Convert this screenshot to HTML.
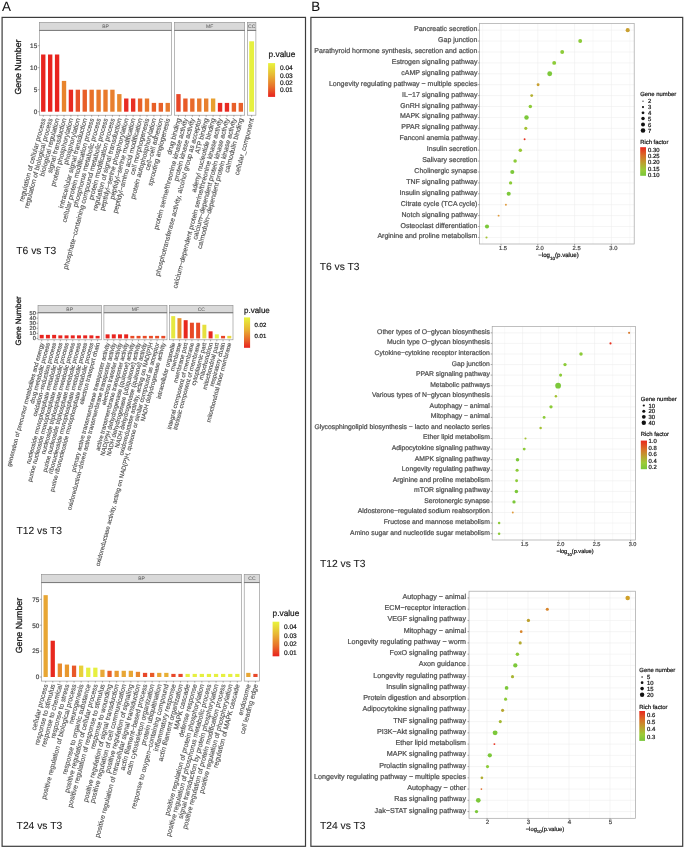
<!DOCTYPE html>
<html><head><meta charset="utf-8"><title>Figure</title>
<style>
html,body{margin:0;padding:0;background:#fff;}
svg{display:block;will-change:transform;}
text{font-family:"Liberation Sans", sans-serif;stroke-width:0.22px;}
</style></head>
<body>
<svg width="685" height="848" viewBox="0 0 685 848" font-family='"Liberation Sans", sans-serif' text-rendering='geometricPrecision'>
<rect x="0" y="0" width="685" height="848" fill="#fff"/>
<rect x="2.10" y="17.40" width="303.40" height="828.90" fill="none" stroke="#3c3c3c" stroke-width="1.2"/>
<rect x="310.90" y="17.40" width="371.80" height="828.90" fill="none" stroke="#3c3c3c" stroke-width="1.2"/>
<text x="2.00" y="10.70" font-size="13.40" fill="#111" stroke="#111" text-anchor="start" style="stroke-width:0.05px">A</text>
<text x="311.20" y="10.90" font-size="13.40" fill="#111" stroke="#111" text-anchor="start" style="stroke-width:0.05px">B</text>
<rect x="39.40" y="22.40" width="132.20" height="8.00" fill="#d9d9d9" stroke="#8a8a8a" stroke-width="0.6"/>
<text x="105.50" y="28.10" font-size="5.00" fill="#555" text-anchor="middle" style="stroke:none">BP</text>
<rect x="39.40" y="30.40" width="132.20" height="84.80" fill="#fff" stroke="#8a8a8a" stroke-width="0.6"/>
<line x1="39.40" y1="30.40" x2="171.60" y2="30.40" stroke="#666" stroke-width="0.7"/>
<rect x="41.08" y="54.50" width="4.36" height="57.20" fill="#e8241e" stroke="none" stroke-width="0"/>
<line x1="43.26" y1="115.20" x2="43.26" y2="116.70" stroke="#555" stroke-width="0.5"/>
<text transform="translate(43.36,118.30) rotate(-75)" font-size="6.77" fill="#4d4d4d" stroke="#4d4d4d" style="stroke-width:0.12px" text-anchor="end" dy="0.35em">regulation of cellular process</text>
<rect x="48.00" y="54.50" width="4.36" height="57.20" fill="#e8241e" stroke="none" stroke-width="0"/>
<line x1="50.17" y1="115.20" x2="50.17" y2="116.70" stroke="#555" stroke-width="0.5"/>
<text transform="translate(50.27,118.30) rotate(-75)" font-size="6.77" fill="#4d4d4d" stroke="#4d4d4d" style="stroke-width:0.12px" text-anchor="end" dy="0.35em">regulation of biological process</text>
<rect x="54.91" y="54.50" width="4.36" height="57.20" fill="#e8241e" stroke="none" stroke-width="0"/>
<line x1="57.09" y1="115.20" x2="57.09" y2="116.70" stroke="#555" stroke-width="0.5"/>
<text transform="translate(57.19,118.30) rotate(-75)" font-size="6.77" fill="#4d4d4d" stroke="#4d4d4d" style="stroke-width:0.12px" text-anchor="end" dy="0.35em">biological regulation</text>
<rect x="61.83" y="80.90" width="4.36" height="30.80" fill="#e8842c" stroke="none" stroke-width="0"/>
<line x1="64.01" y1="115.20" x2="64.01" y2="116.70" stroke="#555" stroke-width="0.5"/>
<text transform="translate(64.11,118.30) rotate(-75)" font-size="6.77" fill="#4d4d4d" stroke="#4d4d4d" style="stroke-width:0.12px" text-anchor="end" dy="0.35em">signal transduction</text>
<rect x="68.74" y="89.70" width="4.36" height="22.00" fill="#e82a22" stroke="none" stroke-width="0"/>
<line x1="70.92" y1="115.20" x2="70.92" y2="116.70" stroke="#555" stroke-width="0.5"/>
<text transform="translate(71.02,118.30) rotate(-75)" font-size="6.77" fill="#4d4d4d" stroke="#4d4d4d" style="stroke-width:0.12px" text-anchor="end" dy="0.35em">protein phosphorylation</text>
<rect x="75.66" y="89.70" width="4.36" height="22.00" fill="#e8522a" stroke="none" stroke-width="0"/>
<line x1="77.84" y1="115.20" x2="77.84" y2="116.70" stroke="#555" stroke-width="0.5"/>
<text transform="translate(77.94,118.30) rotate(-75)" font-size="6.77" fill="#4d4d4d" stroke="#4d4d4d" style="stroke-width:0.12px" text-anchor="end" dy="0.35em">phosphorylation</text>
<rect x="82.57" y="89.70" width="4.36" height="22.00" fill="#e85e28" stroke="none" stroke-width="0"/>
<line x1="84.75" y1="115.20" x2="84.75" y2="116.70" stroke="#555" stroke-width="0.5"/>
<text transform="translate(84.85,118.30) rotate(-75)" font-size="6.77" fill="#4d4d4d" stroke="#4d4d4d" style="stroke-width:0.12px" text-anchor="end" dy="0.35em">intracellular signal transduction</text>
<rect x="89.49" y="89.70" width="4.36" height="22.00" fill="#e8702a" stroke="none" stroke-width="0"/>
<line x1="91.67" y1="115.20" x2="91.67" y2="116.70" stroke="#555" stroke-width="0.5"/>
<text transform="translate(91.77,118.30) rotate(-75)" font-size="6.77" fill="#4d4d4d" stroke="#4d4d4d" style="stroke-width:0.12px" text-anchor="end" dy="0.35em">cellular protein modification process</text>
<rect x="96.41" y="89.70" width="4.36" height="22.00" fill="#e8782c" stroke="none" stroke-width="0"/>
<line x1="98.58" y1="115.20" x2="98.58" y2="116.70" stroke="#555" stroke-width="0.5"/>
<text transform="translate(98.68,118.30) rotate(-75)" font-size="6.77" fill="#4d4d4d" stroke="#4d4d4d" style="stroke-width:0.12px" text-anchor="end" dy="0.35em">phosphorus metabolic process</text>
<rect x="103.32" y="89.70" width="4.36" height="22.00" fill="#e87a2c" stroke="none" stroke-width="0"/>
<line x1="105.50" y1="115.20" x2="105.50" y2="116.70" stroke="#555" stroke-width="0.5"/>
<text transform="translate(105.60,118.30) rotate(-75)" font-size="6.77" fill="#4d4d4d" stroke="#4d4d4d" style="stroke-width:0.12px" text-anchor="end" dy="0.35em">phosphate−containing compound metabolic process</text>
<rect x="110.24" y="89.70" width="4.36" height="22.00" fill="#e8802e" stroke="none" stroke-width="0"/>
<line x1="112.42" y1="115.20" x2="112.42" y2="116.70" stroke="#555" stroke-width="0.5"/>
<text transform="translate(112.52,118.30) rotate(-75)" font-size="6.77" fill="#4d4d4d" stroke="#4d4d4d" style="stroke-width:0.12px" text-anchor="end" dy="0.35em">protein modification process</text>
<rect x="117.15" y="94.10" width="4.36" height="17.60" fill="#e8882e" stroke="none" stroke-width="0"/>
<line x1="119.33" y1="115.20" x2="119.33" y2="116.70" stroke="#555" stroke-width="0.5"/>
<text transform="translate(119.43,118.30) rotate(-75)" font-size="6.77" fill="#4d4d4d" stroke="#4d4d4d" style="stroke-width:0.12px" text-anchor="end" dy="0.35em">regulation of signal transduction</text>
<rect x="124.07" y="98.50" width="4.36" height="13.20" fill="#e82a22" stroke="none" stroke-width="0"/>
<line x1="126.25" y1="115.20" x2="126.25" y2="116.70" stroke="#555" stroke-width="0.5"/>
<text transform="translate(126.35,118.30) rotate(-75)" font-size="6.77" fill="#4d4d4d" stroke="#4d4d4d" style="stroke-width:0.12px" text-anchor="end" dy="0.35em">peptidyl−serine phosphorylation</text>
<rect x="130.98" y="98.50" width="4.36" height="13.20" fill="#e83024" stroke="none" stroke-width="0"/>
<line x1="133.16" y1="115.20" x2="133.16" y2="116.70" stroke="#555" stroke-width="0.5"/>
<text transform="translate(133.26,118.30) rotate(-75)" font-size="6.77" fill="#4d4d4d" stroke="#4d4d4d" style="stroke-width:0.12px" text-anchor="end" dy="0.35em">peptidyl−serine modification</text>
<rect x="137.90" y="98.50" width="4.36" height="13.20" fill="#e86028" stroke="none" stroke-width="0"/>
<line x1="140.08" y1="115.20" x2="140.08" y2="116.70" stroke="#555" stroke-width="0.5"/>
<text transform="translate(140.18,118.30) rotate(-75)" font-size="6.77" fill="#4d4d4d" stroke="#4d4d4d" style="stroke-width:0.12px" text-anchor="end" dy="0.35em">peptidyl−amino acid modification</text>
<rect x="144.82" y="98.50" width="4.36" height="13.20" fill="#e8782c" stroke="none" stroke-width="0"/>
<line x1="146.99" y1="115.20" x2="146.99" y2="116.70" stroke="#555" stroke-width="0.5"/>
<text transform="translate(147.09,118.30) rotate(-75)" font-size="6.77" fill="#4d4d4d" stroke="#4d4d4d" style="stroke-width:0.12px" text-anchor="end" dy="0.35em">cell morphogenesis</text>
<rect x="151.73" y="102.90" width="4.36" height="8.80" fill="#e86028" stroke="none" stroke-width="0"/>
<line x1="153.91" y1="115.20" x2="153.91" y2="116.70" stroke="#555" stroke-width="0.5"/>
<text transform="translate(154.01,118.30) rotate(-75)" font-size="6.77" fill="#4d4d4d" stroke="#4d4d4d" style="stroke-width:0.12px" text-anchor="end" dy="0.35em">protein autophosphorylation</text>
<rect x="158.65" y="102.90" width="4.36" height="8.80" fill="#e86028" stroke="none" stroke-width="0"/>
<line x1="160.83" y1="115.20" x2="160.83" y2="116.70" stroke="#555" stroke-width="0.5"/>
<text transform="translate(160.93,118.30) rotate(-75)" font-size="6.77" fill="#4d4d4d" stroke="#4d4d4d" style="stroke-width:0.12px" text-anchor="end" dy="0.35em">cell−cell adhesion</text>
<rect x="165.56" y="102.90" width="4.36" height="8.80" fill="#e8782c" stroke="none" stroke-width="0"/>
<line x1="167.74" y1="115.20" x2="167.74" y2="116.70" stroke="#555" stroke-width="0.5"/>
<text transform="translate(167.84,118.30) rotate(-75)" font-size="6.77" fill="#4d4d4d" stroke="#4d4d4d" style="stroke-width:0.12px" text-anchor="end" dy="0.35em">sprouting angiogenesis</text>
<line x1="37.80" y1="111.70" x2="39.40" y2="111.70" stroke="#555" stroke-width="0.5"/>
<text x="37.20" y="114.00" font-size="6.40" fill="#4d4d4d" stroke="#4d4d4d" text-anchor="end">0</text>
<line x1="37.80" y1="89.70" x2="39.40" y2="89.70" stroke="#555" stroke-width="0.5"/>
<text x="37.20" y="92.00" font-size="6.40" fill="#4d4d4d" stroke="#4d4d4d" text-anchor="end">5</text>
<line x1="37.80" y1="67.70" x2="39.40" y2="67.70" stroke="#555" stroke-width="0.5"/>
<text x="37.20" y="70.00" font-size="6.40" fill="#4d4d4d" stroke="#4d4d4d" text-anchor="end">10</text>
<line x1="37.80" y1="45.70" x2="39.40" y2="45.70" stroke="#555" stroke-width="0.5"/>
<text x="37.20" y="48.00" font-size="6.40" fill="#4d4d4d" stroke="#4d4d4d" text-anchor="end">15</text>
<rect x="174.60" y="22.40" width="70.10" height="8.00" fill="#d9d9d9" stroke="#8a8a8a" stroke-width="0.6"/>
<text x="209.65" y="28.10" font-size="5.00" fill="#555" text-anchor="middle" style="stroke:none">MF</text>
<rect x="174.60" y="30.40" width="70.10" height="84.80" fill="#fff" stroke="#8a8a8a" stroke-width="0.6"/>
<line x1="174.60" y1="30.40" x2="244.70" y2="30.40" stroke="#666" stroke-width="0.7"/>
<rect x="176.28" y="94.10" width="4.37" height="17.60" fill="#e84828" stroke="none" stroke-width="0"/>
<line x1="178.47" y1="115.20" x2="178.47" y2="116.70" stroke="#555" stroke-width="0.5"/>
<text transform="translate(178.56,118.30) rotate(-75)" font-size="6.77" fill="#4d4d4d" stroke="#4d4d4d" style="stroke-width:0.12px" text-anchor="end" dy="0.35em">drug binding</text>
<rect x="183.21" y="98.50" width="4.37" height="13.20" fill="#e85a28" stroke="none" stroke-width="0"/>
<line x1="185.40" y1="115.20" x2="185.40" y2="116.70" stroke="#555" stroke-width="0.5"/>
<text transform="translate(185.50,118.30) rotate(-75)" font-size="6.77" fill="#4d4d4d" stroke="#4d4d4d" style="stroke-width:0.12px" text-anchor="end" dy="0.35em">protein serine/threonine kinase activity</text>
<rect x="190.14" y="98.50" width="4.37" height="13.20" fill="#e86a2a" stroke="none" stroke-width="0"/>
<line x1="192.32" y1="115.20" x2="192.32" y2="116.70" stroke="#555" stroke-width="0.5"/>
<text transform="translate(192.42,118.30) rotate(-75)" font-size="6.77" fill="#4d4d4d" stroke="#4d4d4d" style="stroke-width:0.12px" text-anchor="end" dy="0.35em">protein kinase activity</text>
<rect x="197.07" y="98.50" width="4.37" height="13.20" fill="#e8782c" stroke="none" stroke-width="0"/>
<line x1="199.25" y1="115.20" x2="199.25" y2="116.70" stroke="#555" stroke-width="0.5"/>
<text transform="translate(199.35,118.30) rotate(-75)" font-size="6.77" fill="#4d4d4d" stroke="#4d4d4d" style="stroke-width:0.12px" text-anchor="end" dy="0.35em">phosphotransferase activity, alcohol group as acceptor</text>
<rect x="204.00" y="98.50" width="4.37" height="13.20" fill="#e8802e" stroke="none" stroke-width="0"/>
<line x1="206.19" y1="115.20" x2="206.19" y2="116.70" stroke="#555" stroke-width="0.5"/>
<text transform="translate(206.28,118.30) rotate(-75)" font-size="6.77" fill="#4d4d4d" stroke="#4d4d4d" style="stroke-width:0.12px" text-anchor="end" dy="0.35em">ATP binding</text>
<rect x="210.93" y="98.50" width="4.37" height="13.20" fill="#e8a030" stroke="none" stroke-width="0"/>
<line x1="213.12" y1="115.20" x2="213.12" y2="116.70" stroke="#555" stroke-width="0.5"/>
<text transform="translate(213.22,118.30) rotate(-75)" font-size="6.77" fill="#4d4d4d" stroke="#4d4d4d" style="stroke-width:0.12px" text-anchor="end" dy="0.35em">adenyl nucleotide binding</text>
<rect x="217.86" y="102.90" width="4.37" height="8.80" fill="#e82a22" stroke="none" stroke-width="0"/>
<line x1="220.05" y1="115.20" x2="220.05" y2="116.70" stroke="#555" stroke-width="0.5"/>
<text transform="translate(220.15,118.30) rotate(-75)" font-size="6.77" fill="#4d4d4d" stroke="#4d4d4d" style="stroke-width:0.12px" text-anchor="end" dy="0.35em">calcium−dependent protein serine/threonine kinase activity</text>
<rect x="224.79" y="102.90" width="4.37" height="8.80" fill="#e82a22" stroke="none" stroke-width="0"/>
<line x1="226.97" y1="115.20" x2="226.97" y2="116.70" stroke="#555" stroke-width="0.5"/>
<text transform="translate(227.07,118.30) rotate(-75)" font-size="6.77" fill="#4d4d4d" stroke="#4d4d4d" style="stroke-width:0.12px" text-anchor="end" dy="0.35em">calcium−dependent protein kinase activity</text>
<rect x="231.72" y="102.90" width="4.37" height="8.80" fill="#e8602a" stroke="none" stroke-width="0"/>
<line x1="233.91" y1="115.20" x2="233.91" y2="116.70" stroke="#555" stroke-width="0.5"/>
<text transform="translate(234.00,118.30) rotate(-75)" font-size="6.77" fill="#4d4d4d" stroke="#4d4d4d" style="stroke-width:0.12px" text-anchor="end" dy="0.35em">calmodulin−dependent protein kinase activity</text>
<rect x="238.65" y="102.90" width="4.37" height="8.80" fill="#e8602a" stroke="none" stroke-width="0"/>
<line x1="240.83" y1="115.20" x2="240.83" y2="116.70" stroke="#555" stroke-width="0.5"/>
<text transform="translate(240.93,118.30) rotate(-75)" font-size="6.77" fill="#4d4d4d" stroke="#4d4d4d" style="stroke-width:0.12px" text-anchor="end" dy="0.35em">calmodulin binding</text>
<rect x="247.40" y="22.40" width="8.50" height="8.00" fill="#d9d9d9" stroke="#8a8a8a" stroke-width="0.6"/>
<text x="251.65" y="28.10" font-size="5.00" fill="#555" text-anchor="middle" style="stroke:none">CC</text>
<rect x="247.40" y="30.40" width="8.50" height="84.80" fill="#fff" stroke="#8a8a8a" stroke-width="0.6"/>
<line x1="247.40" y1="30.40" x2="255.90" y2="30.40" stroke="#666" stroke-width="0.7"/>
<rect x="249.22" y="41.30" width="4.85" height="70.40" fill="#e6f040" stroke="none" stroke-width="0"/>
<line x1="251.65" y1="115.20" x2="251.65" y2="116.70" stroke="#555" stroke-width="0.5"/>
<text transform="translate(251.75,118.30) rotate(-75)" font-size="6.77" fill="#4d4d4d" stroke="#4d4d4d" style="stroke-width:0.12px" text-anchor="end" dy="0.35em">cellular_component</text>
<text transform="translate(21.20,67.00) rotate(-90)" font-size="8.75" fill="#1a1a1a" stroke="#1a1a1a" style="stroke-width:0.3px" text-anchor="middle">Gene Number</text>
<text x="268.60" y="57.30" font-size="8.30" fill="#1a1a1a" stroke="#1a1a1a" text-anchor="start">p.value</text>
<defs><linearGradient id="g1" x1="0" y1="0" x2="0" y2="1"><stop offset="0" stop-color="#e8f43c"/><stop offset="0.35" stop-color="#e8b834"/><stop offset="0.7" stop-color="#e8702a"/><stop offset="1" stop-color="#e8221e"/></linearGradient></defs>
<rect x="268.10" y="63.10" width="7.00" height="33.80" fill="url(#g1)" stroke="none" stroke-width="0"/>
<text x="279.90" y="70.48" font-size="6.60" fill="#1a1a1a" stroke="#1a1a1a" text-anchor="start">0.04</text>
<text x="279.90" y="77.58" font-size="6.60" fill="#1a1a1a" stroke="#1a1a1a" text-anchor="start">0.03</text>
<text x="279.90" y="84.58" font-size="6.60" fill="#1a1a1a" stroke="#1a1a1a" text-anchor="start">0.02</text>
<text x="279.90" y="91.68" font-size="6.60" fill="#1a1a1a" stroke="#1a1a1a" text-anchor="start">0.01</text>
<text x="16.30" y="254.10" font-size="10.30" fill="#1a1a1a" stroke="#1a1a1a" text-anchor="start" style="stroke-width:0.08px">T6 vs T3</text>
<rect x="38.00" y="305.30" width="63.30" height="7.50" fill="#d9d9d9" stroke="#8a8a8a" stroke-width="0.6"/>
<text x="69.65" y="310.75" font-size="5.00" fill="#555" text-anchor="middle" style="stroke:none">BP</text>
<rect x="38.00" y="312.80" width="63.30" height="27.00" fill="#fff" stroke="#8a8a8a" stroke-width="0.6"/>
<line x1="38.00" y1="312.80" x2="101.30" y2="312.80" stroke="#666" stroke-width="0.7"/>
<rect x="39.72" y="334.86" width="3.97" height="3.54" fill="#e8241e" stroke="none" stroke-width="0"/>
<line x1="41.70" y1="339.80" x2="41.70" y2="341.30" stroke="#555" stroke-width="0.5"/>
<text transform="translate(41.80,342.70) rotate(-75)" font-size="6.10" fill="#4d4d4d" stroke="#4d4d4d" style="stroke-width:0.12px" text-anchor="end" dy="0.35em">generation of precursor metabolites and energy</text>
<rect x="45.93" y="334.86" width="3.97" height="3.54" fill="#e8241e" stroke="none" stroke-width="0"/>
<line x1="47.91" y1="339.80" x2="47.91" y2="341.30" stroke="#555" stroke-width="0.5"/>
<text transform="translate(48.02,342.70) rotate(-75)" font-size="6.10" fill="#4d4d4d" stroke="#4d4d4d" style="stroke-width:0.12px" text-anchor="end" dy="0.35em">drug metabolic process</text>
<rect x="52.14" y="334.86" width="3.97" height="3.54" fill="#e8241e" stroke="none" stroke-width="0"/>
<line x1="54.12" y1="339.80" x2="54.12" y2="341.30" stroke="#555" stroke-width="0.5"/>
<text transform="translate(54.23,342.70) rotate(-75)" font-size="6.10" fill="#4d4d4d" stroke="#4d4d4d" style="stroke-width:0.12px" text-anchor="end" dy="0.35em">oxidation−reduction process</text>
<rect x="58.35" y="335.36" width="3.97" height="3.04" fill="#e8241e" stroke="none" stroke-width="0"/>
<line x1="60.33" y1="339.80" x2="60.33" y2="341.30" stroke="#555" stroke-width="0.5"/>
<text transform="translate(60.43,342.70) rotate(-75)" font-size="6.10" fill="#4d4d4d" stroke="#4d4d4d" style="stroke-width:0.12px" text-anchor="end" dy="0.35em">nucleoside monophosphate metabolic process</text>
<rect x="64.56" y="335.36" width="3.97" height="3.04" fill="#e8241e" stroke="none" stroke-width="0"/>
<line x1="66.55" y1="339.80" x2="66.55" y2="341.30" stroke="#555" stroke-width="0.5"/>
<text transform="translate(66.64,342.70) rotate(-75)" font-size="6.10" fill="#4d4d4d" stroke="#4d4d4d" style="stroke-width:0.12px" text-anchor="end" dy="0.35em">purine nucleoside monophosphate metabolic process</text>
<rect x="70.77" y="335.36" width="3.97" height="3.04" fill="#e8241e" stroke="none" stroke-width="0"/>
<line x1="72.75" y1="339.80" x2="72.75" y2="341.30" stroke="#555" stroke-width="0.5"/>
<text transform="translate(72.85,342.70) rotate(-75)" font-size="6.10" fill="#4d4d4d" stroke="#4d4d4d" style="stroke-width:0.12px" text-anchor="end" dy="0.35em">nucleoside triphosphate metabolic process</text>
<rect x="76.98" y="335.36" width="3.97" height="3.04" fill="#e8241e" stroke="none" stroke-width="0"/>
<line x1="78.97" y1="339.80" x2="78.97" y2="341.30" stroke="#555" stroke-width="0.5"/>
<text transform="translate(79.06,342.70) rotate(-75)" font-size="6.10" fill="#4d4d4d" stroke="#4d4d4d" style="stroke-width:0.12px" text-anchor="end" dy="0.35em">purine nucleoside triphosphate metabolic process</text>
<rect x="83.19" y="335.36" width="3.97" height="3.04" fill="#e8241e" stroke="none" stroke-width="0"/>
<line x1="85.17" y1="339.80" x2="85.17" y2="341.30" stroke="#555" stroke-width="0.5"/>
<text transform="translate(85.27,342.70) rotate(-75)" font-size="6.10" fill="#4d4d4d" stroke="#4d4d4d" style="stroke-width:0.12px" text-anchor="end" dy="0.35em">ribonucleoside monophosphate metabolic process</text>
<rect x="89.40" y="335.36" width="3.97" height="3.04" fill="#e8241e" stroke="none" stroke-width="0"/>
<line x1="91.38" y1="339.80" x2="91.38" y2="341.30" stroke="#555" stroke-width="0.5"/>
<text transform="translate(91.48,342.70) rotate(-75)" font-size="6.10" fill="#4d4d4d" stroke="#4d4d4d" style="stroke-width:0.12px" text-anchor="end" dy="0.35em">purine ribonucleoside monophosphate metabolic process</text>
<rect x="95.61" y="335.87" width="3.97" height="2.53" fill="#e8241e" stroke="none" stroke-width="0"/>
<line x1="97.59" y1="339.80" x2="97.59" y2="341.30" stroke="#555" stroke-width="0.5"/>
<text transform="translate(97.69,342.70) rotate(-75)" font-size="6.10" fill="#4d4d4d" stroke="#4d4d4d" style="stroke-width:0.12px" text-anchor="end" dy="0.35em">electron transport chain</text>
<line x1="36.40" y1="338.40" x2="38.00" y2="338.40" stroke="#555" stroke-width="0.5"/>
<text x="35.80" y="340.42" font-size="5.60" fill="#4d4d4d" stroke="#4d4d4d" text-anchor="end">0</text>
<line x1="36.40" y1="333.34" x2="38.00" y2="333.34" stroke="#555" stroke-width="0.5"/>
<text x="35.80" y="335.36" font-size="5.60" fill="#4d4d4d" stroke="#4d4d4d" text-anchor="end">10</text>
<line x1="36.40" y1="328.28" x2="38.00" y2="328.28" stroke="#555" stroke-width="0.5"/>
<text x="35.80" y="330.30" font-size="5.60" fill="#4d4d4d" stroke="#4d4d4d" text-anchor="end">20</text>
<line x1="36.40" y1="323.22" x2="38.00" y2="323.22" stroke="#555" stroke-width="0.5"/>
<text x="35.80" y="325.24" font-size="5.60" fill="#4d4d4d" stroke="#4d4d4d" text-anchor="end">30</text>
<line x1="36.40" y1="318.16" x2="38.00" y2="318.16" stroke="#555" stroke-width="0.5"/>
<text x="35.80" y="320.18" font-size="5.60" fill="#4d4d4d" stroke="#4d4d4d" text-anchor="end">40</text>
<line x1="36.40" y1="313.10" x2="38.00" y2="313.10" stroke="#555" stroke-width="0.5"/>
<text x="35.80" y="315.12" font-size="5.60" fill="#4d4d4d" stroke="#4d4d4d" text-anchor="end">50</text>
<rect x="103.90" y="305.30" width="63.10" height="7.50" fill="#d9d9d9" stroke="#8a8a8a" stroke-width="0.6"/>
<text x="135.45" y="310.75" font-size="5.00" fill="#555" text-anchor="middle" style="stroke:none">MF</text>
<rect x="103.90" y="312.80" width="63.10" height="27.00" fill="#fff" stroke="#8a8a8a" stroke-width="0.6"/>
<line x1="103.90" y1="312.80" x2="167.00" y2="312.80" stroke="#666" stroke-width="0.7"/>
<rect x="105.61" y="334.35" width="3.96" height="4.05" fill="#e8241e" stroke="none" stroke-width="0"/>
<line x1="107.59" y1="339.80" x2="107.59" y2="341.30" stroke="#555" stroke-width="0.5"/>
<text transform="translate(107.69,342.70) rotate(-75)" font-size="6.10" fill="#4d4d4d" stroke="#4d4d4d" style="stroke-width:0.12px" text-anchor="end" dy="0.35em">primary active transmembrane transporter activity</text>
<rect x="111.80" y="334.35" width="3.96" height="4.05" fill="#e8241e" stroke="none" stroke-width="0"/>
<line x1="113.78" y1="339.80" x2="113.78" y2="341.30" stroke="#555" stroke-width="0.5"/>
<text transform="translate(113.88,342.70) rotate(-75)" font-size="6.10" fill="#4d4d4d" stroke="#4d4d4d" style="stroke-width:0.12px" text-anchor="end" dy="0.35em">oxidoreduction−driven active transmembrane transporter activity</text>
<rect x="117.99" y="334.35" width="3.96" height="4.05" fill="#e8241e" stroke="none" stroke-width="0"/>
<line x1="119.97" y1="339.80" x2="119.97" y2="341.30" stroke="#555" stroke-width="0.5"/>
<text transform="translate(120.07,342.70) rotate(-75)" font-size="6.10" fill="#4d4d4d" stroke="#4d4d4d" style="stroke-width:0.12px" text-anchor="end" dy="0.35em">electron transfer activity</text>
<rect x="124.18" y="334.35" width="3.96" height="4.05" fill="#e8241e" stroke="none" stroke-width="0"/>
<line x1="126.16" y1="339.80" x2="126.16" y2="341.30" stroke="#555" stroke-width="0.5"/>
<text transform="translate(126.26,342.70) rotate(-75)" font-size="6.10" fill="#4d4d4d" stroke="#4d4d4d" style="stroke-width:0.12px" text-anchor="end" dy="0.35em">active transmembrane transporter activity</text>
<rect x="130.37" y="335.87" width="3.96" height="2.53" fill="#e84a26" stroke="none" stroke-width="0"/>
<line x1="132.35" y1="339.80" x2="132.35" y2="341.30" stroke="#555" stroke-width="0.5"/>
<text transform="translate(132.45,342.70) rotate(-75)" font-size="6.10" fill="#4d4d4d" stroke="#4d4d4d" style="stroke-width:0.12px" text-anchor="end" dy="0.35em">NAD(P)H dehydrogenase (quinone) activity</text>
<rect x="136.56" y="335.87" width="3.96" height="2.53" fill="#e84a26" stroke="none" stroke-width="0"/>
<line x1="138.54" y1="339.80" x2="138.54" y2="341.30" stroke="#555" stroke-width="0.5"/>
<text transform="translate(138.64,342.70) rotate(-75)" font-size="6.10" fill="#4d4d4d" stroke="#4d4d4d" style="stroke-width:0.12px" text-anchor="end" dy="0.35em">NADH dehydrogenase (ubiquinone) activity</text>
<rect x="142.75" y="335.87" width="3.96" height="2.53" fill="#e84a26" stroke="none" stroke-width="0"/>
<line x1="144.74" y1="339.80" x2="144.74" y2="341.30" stroke="#555" stroke-width="0.5"/>
<text transform="translate(144.84,342.70) rotate(-75)" font-size="6.10" fill="#4d4d4d" stroke="#4d4d4d" style="stroke-width:0.12px" text-anchor="end" dy="0.35em">NADH dehydrogenase (quinone) activity</text>
<rect x="148.94" y="335.87" width="3.96" height="2.53" fill="#e84a26" stroke="none" stroke-width="0"/>
<line x1="150.93" y1="339.80" x2="150.93" y2="341.30" stroke="#555" stroke-width="0.5"/>
<text transform="translate(151.03,342.70) rotate(-75)" font-size="6.10" fill="#4d4d4d" stroke="#4d4d4d" style="stroke-width:0.12px" text-anchor="end" dy="0.35em">oxidoreductase activity, acting on NAD(P)H</text>
<rect x="155.13" y="335.87" width="3.96" height="2.53" fill="#e84a26" stroke="none" stroke-width="0"/>
<line x1="157.12" y1="339.80" x2="157.12" y2="341.30" stroke="#555" stroke-width="0.5"/>
<text transform="translate(157.22,342.70) rotate(-75)" font-size="6.10" fill="#4d4d4d" stroke="#4d4d4d" style="stroke-width:0.12px" text-anchor="end" dy="0.35em">oxidoreductase activity, acting on NAD(P)H, quinone or similar compound as acceptor</text>
<rect x="161.32" y="335.87" width="3.96" height="2.53" fill="#e84a26" stroke="none" stroke-width="0"/>
<line x1="163.31" y1="339.80" x2="163.31" y2="341.30" stroke="#555" stroke-width="0.5"/>
<text transform="translate(163.41,342.70) rotate(-75)" font-size="6.10" fill="#4d4d4d" stroke="#4d4d4d" style="stroke-width:0.12px" text-anchor="end" dy="0.35em">NADH dehydrogenase activity</text>
<rect x="169.50" y="305.30" width="63.50" height="7.50" fill="#d9d9d9" stroke="#8a8a8a" stroke-width="0.6"/>
<text x="201.25" y="310.75" font-size="5.00" fill="#555" text-anchor="middle" style="stroke:none">CC</text>
<rect x="169.50" y="312.80" width="63.50" height="27.00" fill="#fff" stroke="#8a8a8a" stroke-width="0.6"/>
<line x1="169.50" y1="312.80" x2="233.00" y2="312.80" stroke="#666" stroke-width="0.7"/>
<rect x="171.22" y="316.14" width="3.99" height="22.26" fill="#e6e840" stroke="none" stroke-width="0"/>
<line x1="173.22" y1="339.80" x2="173.22" y2="341.30" stroke="#555" stroke-width="0.5"/>
<text transform="translate(173.31,342.70) rotate(-75)" font-size="6.10" fill="#4d4d4d" stroke="#4d4d4d" style="stroke-width:0.12px" text-anchor="end" dy="0.35em">intracellular organelle</text>
<rect x="177.45" y="318.16" width="3.99" height="20.24" fill="#e8902e" stroke="none" stroke-width="0"/>
<line x1="179.44" y1="339.80" x2="179.44" y2="341.30" stroke="#555" stroke-width="0.5"/>
<text transform="translate(179.54,342.70) rotate(-75)" font-size="6.10" fill="#4d4d4d" stroke="#4d4d4d" style="stroke-width:0.12px" text-anchor="end" dy="0.35em">membrane</text>
<rect x="183.68" y="320.18" width="3.99" height="18.22" fill="#e8281e" stroke="none" stroke-width="0"/>
<line x1="185.67" y1="339.80" x2="185.67" y2="341.30" stroke="#555" stroke-width="0.5"/>
<text transform="translate(185.77,342.70) rotate(-75)" font-size="6.10" fill="#4d4d4d" stroke="#4d4d4d" style="stroke-width:0.12px" text-anchor="end" dy="0.35em">membrane part</text>
<rect x="189.91" y="322.71" width="3.99" height="15.69" fill="#e84a26" stroke="none" stroke-width="0"/>
<line x1="191.91" y1="339.80" x2="191.91" y2="341.30" stroke="#555" stroke-width="0.5"/>
<text transform="translate(192.00,342.70) rotate(-75)" font-size="6.10" fill="#4d4d4d" stroke="#4d4d4d" style="stroke-width:0.12px" text-anchor="end" dy="0.35em">integral component of membrane</text>
<rect x="196.14" y="322.71" width="3.99" height="15.69" fill="#e84a26" stroke="none" stroke-width="0"/>
<line x1="198.13" y1="339.80" x2="198.13" y2="341.30" stroke="#555" stroke-width="0.5"/>
<text transform="translate(198.23,342.70) rotate(-75)" font-size="6.10" fill="#4d4d4d" stroke="#4d4d4d" style="stroke-width:0.12px" text-anchor="end" dy="0.35em">intrinsic component of membrane</text>
<rect x="202.37" y="324.74" width="3.99" height="13.66" fill="#e6e03e" stroke="none" stroke-width="0"/>
<line x1="204.37" y1="339.80" x2="204.37" y2="341.30" stroke="#555" stroke-width="0.5"/>
<text transform="translate(204.47,342.70) rotate(-75)" font-size="6.10" fill="#4d4d4d" stroke="#4d4d4d" style="stroke-width:0.12px" text-anchor="end" dy="0.35em">cytoplasmic part</text>
<rect x="208.60" y="331.32" width="3.99" height="7.08" fill="#e82a20" stroke="none" stroke-width="0"/>
<line x1="210.59" y1="339.80" x2="210.59" y2="341.30" stroke="#555" stroke-width="0.5"/>
<text transform="translate(210.69,342.70) rotate(-75)" font-size="6.10" fill="#4d4d4d" stroke="#4d4d4d" style="stroke-width:0.12px" text-anchor="end" dy="0.35em">mitochondrion</text>
<rect x="214.83" y="334.35" width="3.99" height="4.05" fill="#e8f048" stroke="none" stroke-width="0"/>
<line x1="216.82" y1="339.80" x2="216.82" y2="341.30" stroke="#555" stroke-width="0.5"/>
<text transform="translate(216.92,342.70) rotate(-75)" font-size="6.10" fill="#4d4d4d" stroke="#4d4d4d" style="stroke-width:0.12px" text-anchor="end" dy="0.35em">mitochondrial part</text>
<rect x="221.06" y="335.87" width="3.99" height="2.53" fill="#e84426" stroke="none" stroke-width="0"/>
<line x1="223.06" y1="339.80" x2="223.06" y2="341.30" stroke="#555" stroke-width="0.5"/>
<text transform="translate(223.16,342.70) rotate(-75)" font-size="6.10" fill="#4d4d4d" stroke="#4d4d4d" style="stroke-width:0.12px" text-anchor="end" dy="0.35em">respiratory chain</text>
<rect x="227.29" y="335.87" width="3.99" height="2.53" fill="#e8d83c" stroke="none" stroke-width="0"/>
<line x1="229.28" y1="339.80" x2="229.28" y2="341.30" stroke="#555" stroke-width="0.5"/>
<text transform="translate(229.38,342.70) rotate(-75)" font-size="6.10" fill="#4d4d4d" stroke="#4d4d4d" style="stroke-width:0.12px" text-anchor="end" dy="0.35em">mitochondrial inner membrane</text>
<text transform="translate(21.40,320.90) rotate(-90)" font-size="7.80" fill="#1a1a1a" stroke="#1a1a1a" style="stroke-width:0.3px" text-anchor="middle">Gene Number</text>
<text x="244.00" y="312.60" font-size="8.00" fill="#1a1a1a" stroke="#1a1a1a" text-anchor="start">p.value</text>
<defs><linearGradient id="g2" x1="0" y1="0" x2="0" y2="1"><stop offset="0" stop-color="#e8f43c"/><stop offset="0.4" stop-color="#e8b434"/><stop offset="0.75" stop-color="#e8642a"/><stop offset="1" stop-color="#e8221e"/></linearGradient></defs>
<rect x="244.00" y="317.40" width="6.10" height="30.40" fill="url(#g2)" stroke="none" stroke-width="0"/>
<text x="254.60" y="326.96" font-size="6.00" fill="#1a1a1a" stroke="#1a1a1a" text-anchor="start">0.02</text>
<text x="254.60" y="338.16" font-size="6.00" fill="#1a1a1a" stroke="#1a1a1a" text-anchor="start">0.01</text>
<text x="16.50" y="534.00" font-size="10.30" fill="#1a1a1a" stroke="#1a1a1a" text-anchor="start" style="stroke-width:0.08px">T12 vs T3</text>
<rect x="41.50" y="574.30" width="200.00" height="8.30" fill="#d9d9d9" stroke="#8a8a8a" stroke-width="0.6"/>
<text x="141.50" y="580.15" font-size="5.00" fill="#555" text-anchor="middle" style="stroke:none">BP</text>
<rect x="41.50" y="582.60" width="200.00" height="98.50" fill="#fff" stroke="#8a8a8a" stroke-width="0.6"/>
<line x1="41.50" y1="582.60" x2="241.50" y2="582.60" stroke="#666" stroke-width="0.7"/>
<rect x="43.52" y="595.16" width="4.26" height="81.84" fill="#e8a634" stroke="none" stroke-width="0"/>
<line x1="45.65" y1="681.10" x2="45.65" y2="682.60" stroke="#555" stroke-width="0.5"/>
<text transform="translate(45.75,684.20) rotate(-75)" font-size="6.85" fill="#4d4d4d" stroke="#4d4d4d" style="stroke-width:0.12px" text-anchor="end" dy="0.35em">cellular process</text>
<rect x="50.62" y="640.74" width="4.26" height="36.26" fill="#e8281e" stroke="none" stroke-width="0"/>
<line x1="52.75" y1="681.10" x2="52.75" y2="682.60" stroke="#555" stroke-width="0.5"/>
<text transform="translate(52.85,684.20) rotate(-75)" font-size="6.85" fill="#4d4d4d" stroke="#4d4d4d" style="stroke-width:0.12px" text-anchor="end" dy="0.35em">response to stimulus</text>
<rect x="57.72" y="663.53" width="4.26" height="13.47" fill="#e88a2e" stroke="none" stroke-width="0"/>
<line x1="59.85" y1="681.10" x2="59.85" y2="682.60" stroke="#555" stroke-width="0.5"/>
<text transform="translate(59.95,684.20) rotate(-75)" font-size="6.85" fill="#4d4d4d" stroke="#4d4d4d" style="stroke-width:0.12px" text-anchor="end" dy="0.35em">response to chemical</text>
<rect x="64.82" y="664.57" width="4.26" height="12.43" fill="#e8982e" stroke="none" stroke-width="0"/>
<line x1="66.95" y1="681.10" x2="66.95" y2="682.60" stroke="#555" stroke-width="0.5"/>
<text transform="translate(67.05,684.20) rotate(-75)" font-size="6.85" fill="#4d4d4d" stroke="#4d4d4d" style="stroke-width:0.12px" text-anchor="end" dy="0.35em">response to stress</text>
<rect x="71.92" y="665.60" width="4.26" height="11.40" fill="#e85828" stroke="none" stroke-width="0"/>
<line x1="74.05" y1="681.10" x2="74.05" y2="682.60" stroke="#555" stroke-width="0.5"/>
<text transform="translate(74.15,684.20) rotate(-75)" font-size="6.85" fill="#4d4d4d" stroke="#4d4d4d" style="stroke-width:0.12px" text-anchor="end" dy="0.35em">positive regulation of biological process</text>
<rect x="79.02" y="665.60" width="4.26" height="11.40" fill="#e8d03a" stroke="none" stroke-width="0"/>
<line x1="81.15" y1="681.10" x2="81.15" y2="682.60" stroke="#555" stroke-width="0.5"/>
<text transform="translate(81.25,684.20) rotate(-75)" font-size="6.85" fill="#4d4d4d" stroke="#4d4d4d" style="stroke-width:0.12px" text-anchor="end" dy="0.35em">neurogenesis</text>
<rect x="86.12" y="667.68" width="4.26" height="9.32" fill="#e6f040" stroke="none" stroke-width="0"/>
<line x1="88.25" y1="681.10" x2="88.25" y2="682.60" stroke="#555" stroke-width="0.5"/>
<text transform="translate(88.35,684.20) rotate(-75)" font-size="6.85" fill="#4d4d4d" stroke="#4d4d4d" style="stroke-width:0.12px" text-anchor="end" dy="0.35em">response to organic substance</text>
<rect x="93.22" y="667.68" width="4.26" height="9.32" fill="#e6f040" stroke="none" stroke-width="0"/>
<line x1="95.35" y1="681.10" x2="95.35" y2="682.60" stroke="#555" stroke-width="0.5"/>
<text transform="translate(95.45,684.20) rotate(-75)" font-size="6.85" fill="#4d4d4d" stroke="#4d4d4d" style="stroke-width:0.12px" text-anchor="end" dy="0.35em">positive regulation of cellular process</text>
<rect x="100.32" y="669.75" width="4.26" height="7.25" fill="#e8a838" stroke="none" stroke-width="0"/>
<line x1="102.45" y1="681.10" x2="102.45" y2="682.60" stroke="#555" stroke-width="0.5"/>
<text transform="translate(102.55,684.20) rotate(-75)" font-size="6.85" fill="#4d4d4d" stroke="#4d4d4d" style="stroke-width:0.12px" text-anchor="end" dy="0.35em">positive regulation of response to stimulus</text>
<rect x="107.42" y="670.78" width="4.26" height="6.22" fill="#e86028" stroke="none" stroke-width="0"/>
<line x1="109.55" y1="681.10" x2="109.55" y2="682.60" stroke="#555" stroke-width="0.5"/>
<text transform="translate(109.65,684.20) rotate(-75)" font-size="6.85" fill="#4d4d4d" stroke="#4d4d4d" style="stroke-width:0.12px" text-anchor="end" dy="0.35em">response to wounding</text>
<rect x="114.52" y="670.78" width="4.26" height="6.22" fill="#e89a30" stroke="none" stroke-width="0"/>
<line x1="116.65" y1="681.10" x2="116.65" y2="682.60" stroke="#555" stroke-width="0.5"/>
<text transform="translate(116.75,684.20) rotate(-75)" font-size="6.85" fill="#4d4d4d" stroke="#4d4d4d" style="stroke-width:0.12px" text-anchor="end" dy="0.35em">positive regulation of signal transduction</text>
<rect x="121.62" y="670.78" width="4.26" height="6.22" fill="#e8a634" stroke="none" stroke-width="0"/>
<line x1="123.75" y1="681.10" x2="123.75" y2="682.60" stroke="#555" stroke-width="0.5"/>
<text transform="translate(123.85,684.20) rotate(-75)" font-size="6.85" fill="#4d4d4d" stroke="#4d4d4d" style="stroke-width:0.12px" text-anchor="end" dy="0.35em">positive regulation of cell communication</text>
<rect x="128.72" y="670.78" width="4.26" height="6.22" fill="#e8a634" stroke="none" stroke-width="0"/>
<line x1="130.85" y1="681.10" x2="130.85" y2="682.60" stroke="#555" stroke-width="0.5"/>
<text transform="translate(130.95,684.20) rotate(-75)" font-size="6.85" fill="#4d4d4d" stroke="#4d4d4d" style="stroke-width:0.12px" text-anchor="end" dy="0.35em">positive regulation of signaling</text>
<rect x="135.82" y="671.82" width="4.26" height="5.18" fill="#e8882e" stroke="none" stroke-width="0"/>
<line x1="137.95" y1="681.10" x2="137.95" y2="682.60" stroke="#555" stroke-width="0.5"/>
<text transform="translate(138.05,684.20) rotate(-75)" font-size="6.85" fill="#4d4d4d" stroke="#4d4d4d" style="stroke-width:0.12px" text-anchor="end" dy="0.35em">positive regulation of intracellular signal transduction</text>
<rect x="142.92" y="672.86" width="4.26" height="4.14" fill="#e8482a" stroke="none" stroke-width="0"/>
<line x1="145.05" y1="681.10" x2="145.05" y2="682.60" stroke="#555" stroke-width="0.5"/>
<text transform="translate(145.15,684.20) rotate(-75)" font-size="6.85" fill="#4d4d4d" stroke="#4d4d4d" style="stroke-width:0.12px" text-anchor="end" dy="0.35em">actin filament−based process</text>
<rect x="150.02" y="672.86" width="4.26" height="4.14" fill="#e85a28" stroke="none" stroke-width="0"/>
<line x1="152.15" y1="681.10" x2="152.15" y2="682.60" stroke="#555" stroke-width="0.5"/>
<text transform="translate(152.25,684.20) rotate(-75)" font-size="6.85" fill="#4d4d4d" stroke="#4d4d4d" style="stroke-width:0.12px" text-anchor="end" dy="0.35em">actin cytoskeleton organization</text>
<rect x="157.12" y="672.86" width="4.26" height="4.14" fill="#e8a634" stroke="none" stroke-width="0"/>
<line x1="159.25" y1="681.10" x2="159.25" y2="682.60" stroke="#555" stroke-width="0.5"/>
<text transform="translate(159.35,684.20) rotate(-75)" font-size="6.85" fill="#4d4d4d" stroke="#4d4d4d" style="stroke-width:0.12px" text-anchor="end" dy="0.35em">protein ubiquitination</text>
<rect x="164.22" y="672.86" width="4.26" height="4.14" fill="#e8b034" stroke="none" stroke-width="0"/>
<line x1="166.35" y1="681.10" x2="166.35" y2="682.60" stroke="#555" stroke-width="0.5"/>
<text transform="translate(166.45,684.20) rotate(-75)" font-size="6.85" fill="#4d4d4d" stroke="#4d4d4d" style="stroke-width:0.12px" text-anchor="end" dy="0.35em">response to oxygen−containing compound</text>
<rect x="171.32" y="673.89" width="4.26" height="3.11" fill="#e8482a" stroke="none" stroke-width="0"/>
<line x1="173.45" y1="681.10" x2="173.45" y2="682.60" stroke="#555" stroke-width="0.5"/>
<text transform="translate(173.55,684.20) rotate(-75)" font-size="6.85" fill="#4d4d4d" stroke="#4d4d4d" style="stroke-width:0.12px" text-anchor="end" dy="0.35em">inflammatory response</text>
<rect x="178.42" y="673.89" width="4.26" height="3.11" fill="#e8482a" stroke="none" stroke-width="0"/>
<line x1="180.55" y1="681.10" x2="180.55" y2="682.60" stroke="#555" stroke-width="0.5"/>
<text transform="translate(180.65,684.20) rotate(-75)" font-size="6.85" fill="#4d4d4d" stroke="#4d4d4d" style="stroke-width:0.12px" text-anchor="end" dy="0.35em">actin filament organization</text>
<rect x="185.52" y="673.89" width="4.26" height="3.11" fill="#e6f040" stroke="none" stroke-width="0"/>
<line x1="187.65" y1="681.10" x2="187.65" y2="682.60" stroke="#555" stroke-width="0.5"/>
<text transform="translate(187.75,684.20) rotate(-75)" font-size="6.85" fill="#4d4d4d" stroke="#4d4d4d" style="stroke-width:0.12px" text-anchor="end" dy="0.35em">MAPK cascade</text>
<rect x="192.62" y="673.89" width="4.26" height="3.11" fill="#e6f040" stroke="none" stroke-width="0"/>
<line x1="194.75" y1="681.10" x2="194.75" y2="682.60" stroke="#555" stroke-width="0.5"/>
<text transform="translate(194.85,684.20) rotate(-75)" font-size="6.85" fill="#4d4d4d" stroke="#4d4d4d" style="stroke-width:0.12px" text-anchor="end" dy="0.35em">defense response</text>
<rect x="199.72" y="673.89" width="4.26" height="3.11" fill="#e6f040" stroke="none" stroke-width="0"/>
<line x1="201.85" y1="681.10" x2="201.85" y2="682.60" stroke="#555" stroke-width="0.5"/>
<text transform="translate(201.95,684.20) rotate(-75)" font-size="6.85" fill="#4d4d4d" stroke="#4d4d4d" style="stroke-width:0.12px" text-anchor="end" dy="0.35em">positive regulation of protein phosphorylation</text>
<rect x="206.82" y="673.89" width="4.26" height="3.11" fill="#e6f040" stroke="none" stroke-width="0"/>
<line x1="208.95" y1="681.10" x2="208.95" y2="682.60" stroke="#555" stroke-width="0.5"/>
<text transform="translate(209.05,684.20) rotate(-75)" font-size="6.85" fill="#4d4d4d" stroke="#4d4d4d" style="stroke-width:0.12px" text-anchor="end" dy="0.35em">positive regulation of phosphorus metabolic process</text>
<rect x="213.92" y="673.89" width="4.26" height="3.11" fill="#e6f040" stroke="none" stroke-width="0"/>
<line x1="216.05" y1="681.10" x2="216.05" y2="682.60" stroke="#555" stroke-width="0.5"/>
<text transform="translate(216.15,684.20) rotate(-75)" font-size="6.85" fill="#4d4d4d" stroke="#4d4d4d" style="stroke-width:0.12px" text-anchor="end" dy="0.35em">signal transduction by protein phosphorylation</text>
<rect x="221.02" y="673.89" width="4.26" height="3.11" fill="#e6f040" stroke="none" stroke-width="0"/>
<line x1="223.15" y1="681.10" x2="223.15" y2="682.60" stroke="#555" stroke-width="0.5"/>
<text transform="translate(223.25,684.20) rotate(-75)" font-size="6.85" fill="#4d4d4d" stroke="#4d4d4d" style="stroke-width:0.12px" text-anchor="end" dy="0.35em">positive regulation of protein modification process</text>
<rect x="228.12" y="673.89" width="4.26" height="3.11" fill="#e6f040" stroke="none" stroke-width="0"/>
<line x1="230.25" y1="681.10" x2="230.25" y2="682.60" stroke="#555" stroke-width="0.5"/>
<text transform="translate(230.35,684.20) rotate(-75)" font-size="6.85" fill="#4d4d4d" stroke="#4d4d4d" style="stroke-width:0.12px" text-anchor="end" dy="0.35em">positive regulation of phosphorylation</text>
<rect x="235.22" y="673.89" width="4.26" height="3.11" fill="#e6f040" stroke="none" stroke-width="0"/>
<line x1="237.35" y1="681.10" x2="237.35" y2="682.60" stroke="#555" stroke-width="0.5"/>
<text transform="translate(237.45,684.20) rotate(-75)" font-size="6.85" fill="#4d4d4d" stroke="#4d4d4d" style="stroke-width:0.12px" text-anchor="end" dy="0.35em">regulation of MAPK cascade</text>
<line x1="39.90" y1="677.00" x2="41.50" y2="677.00" stroke="#555" stroke-width="0.5"/>
<text x="39.30" y="679.30" font-size="6.40" fill="#4d4d4d" stroke="#4d4d4d" text-anchor="end">0</text>
<line x1="39.90" y1="651.10" x2="41.50" y2="651.10" stroke="#555" stroke-width="0.5"/>
<text x="39.30" y="653.40" font-size="6.40" fill="#4d4d4d" stroke="#4d4d4d" text-anchor="end">25</text>
<line x1="39.90" y1="625.20" x2="41.50" y2="625.20" stroke="#555" stroke-width="0.5"/>
<text x="39.30" y="627.50" font-size="6.40" fill="#4d4d4d" stroke="#4d4d4d" text-anchor="end">50</text>
<line x1="39.90" y1="599.30" x2="41.50" y2="599.30" stroke="#555" stroke-width="0.5"/>
<text x="39.30" y="601.60" font-size="6.40" fill="#4d4d4d" stroke="#4d4d4d" text-anchor="end">75</text>
<rect x="244.20" y="574.30" width="15.40" height="8.30" fill="#d9d9d9" stroke="#8a8a8a" stroke-width="0.6"/>
<text x="251.90" y="580.15" font-size="5.00" fill="#555" text-anchor="middle" style="stroke:none">CC</text>
<rect x="244.20" y="582.60" width="15.40" height="98.50" fill="#fff" stroke="#8a8a8a" stroke-width="0.6"/>
<line x1="244.20" y1="582.60" x2="259.60" y2="582.60" stroke="#666" stroke-width="0.7"/>
<rect x="246.22" y="672.86" width="4.26" height="4.14" fill="#e8a634" stroke="none" stroke-width="0"/>
<line x1="248.35" y1="681.10" x2="248.35" y2="682.60" stroke="#555" stroke-width="0.5"/>
<text transform="translate(248.45,684.20) rotate(-75)" font-size="6.85" fill="#4d4d4d" stroke="#4d4d4d" style="stroke-width:0.12px" text-anchor="end" dy="0.35em">endosome</text>
<rect x="253.32" y="673.89" width="4.26" height="3.11" fill="#e8482a" stroke="none" stroke-width="0"/>
<line x1="255.45" y1="681.10" x2="255.45" y2="682.60" stroke="#555" stroke-width="0.5"/>
<text transform="translate(255.55,684.20) rotate(-75)" font-size="6.85" fill="#4d4d4d" stroke="#4d4d4d" style="stroke-width:0.12px" text-anchor="end" dy="0.35em">cell leading edge</text>
<text transform="translate(22.10,625.60) rotate(-90)" font-size="8.85" fill="#1a1a1a" stroke="#1a1a1a" style="stroke-width:0.3px" text-anchor="middle">Gene Number</text>
<text x="272.60" y="616.20" font-size="8.30" fill="#1a1a1a" stroke="#1a1a1a" text-anchor="start">p.value</text>
<defs><linearGradient id="g3" x1="0" y1="0" x2="0" y2="1"><stop offset="0" stop-color="#e8f43c"/><stop offset="0.35" stop-color="#e8b834"/><stop offset="0.7" stop-color="#e8702a"/><stop offset="1" stop-color="#e8221e"/></linearGradient></defs>
<rect x="272.60" y="621.70" width="6.70" height="34.60" fill="url(#g3)" stroke="none" stroke-width="0"/>
<text x="283.90" y="628.68" font-size="6.60" fill="#1a1a1a" stroke="#1a1a1a" text-anchor="start">0.04</text>
<text x="283.90" y="637.58" font-size="6.60" fill="#1a1a1a" stroke="#1a1a1a" text-anchor="start">0.03</text>
<text x="283.90" y="646.48" font-size="6.60" fill="#1a1a1a" stroke="#1a1a1a" text-anchor="start">0.02</text>
<text x="283.90" y="655.38" font-size="6.60" fill="#1a1a1a" stroke="#1a1a1a" text-anchor="start">0.01</text>
<text x="16.60" y="829.00" font-size="10.30" fill="#1a1a1a" stroke="#1a1a1a" text-anchor="start" style="stroke-width:0.08px">T24 vs T3</text>
<rect x="479.40" y="23.60" width="154.80" height="220.40" fill="#fff" stroke="none" stroke-width="0"/>
<line x1="482.60" y1="23.60" x2="482.60" y2="244.00" stroke="#f3f3f3" stroke-width="0.45"/>
<line x1="519.40" y1="23.60" x2="519.40" y2="244.00" stroke="#f3f3f3" stroke-width="0.45"/>
<line x1="556.20" y1="23.60" x2="556.20" y2="244.00" stroke="#f3f3f3" stroke-width="0.45"/>
<line x1="593.00" y1="23.60" x2="593.00" y2="244.00" stroke="#f3f3f3" stroke-width="0.45"/>
<line x1="629.80" y1="23.60" x2="629.80" y2="244.00" stroke="#f3f3f3" stroke-width="0.45"/>
<line x1="501.00" y1="23.60" x2="501.00" y2="244.00" stroke="#ececec" stroke-width="0.55"/>
<line x1="537.80" y1="23.60" x2="537.80" y2="244.00" stroke="#ececec" stroke-width="0.55"/>
<line x1="574.60" y1="23.60" x2="574.60" y2="244.00" stroke="#ececec" stroke-width="0.55"/>
<line x1="611.40" y1="23.60" x2="611.40" y2="244.00" stroke="#ececec" stroke-width="0.55"/>
<line x1="479.40" y1="30.15" x2="634.20" y2="30.15" stroke="#ececec" stroke-width="0.55"/>
<line x1="479.40" y1="41.06" x2="634.20" y2="41.06" stroke="#ececec" stroke-width="0.55"/>
<line x1="479.40" y1="51.97" x2="634.20" y2="51.97" stroke="#ececec" stroke-width="0.55"/>
<line x1="479.40" y1="62.88" x2="634.20" y2="62.88" stroke="#ececec" stroke-width="0.55"/>
<line x1="479.40" y1="73.79" x2="634.20" y2="73.79" stroke="#ececec" stroke-width="0.55"/>
<line x1="479.40" y1="84.70" x2="634.20" y2="84.70" stroke="#ececec" stroke-width="0.55"/>
<line x1="479.40" y1="95.61" x2="634.20" y2="95.61" stroke="#ececec" stroke-width="0.55"/>
<line x1="479.40" y1="106.52" x2="634.20" y2="106.52" stroke="#ececec" stroke-width="0.55"/>
<line x1="479.40" y1="117.43" x2="634.20" y2="117.43" stroke="#ececec" stroke-width="0.55"/>
<line x1="479.40" y1="128.34" x2="634.20" y2="128.34" stroke="#ececec" stroke-width="0.55"/>
<line x1="479.40" y1="139.26" x2="634.20" y2="139.26" stroke="#ececec" stroke-width="0.55"/>
<line x1="479.40" y1="150.17" x2="634.20" y2="150.17" stroke="#ececec" stroke-width="0.55"/>
<line x1="479.40" y1="161.08" x2="634.20" y2="161.08" stroke="#ececec" stroke-width="0.55"/>
<line x1="479.40" y1="171.99" x2="634.20" y2="171.99" stroke="#ececec" stroke-width="0.55"/>
<line x1="479.40" y1="182.90" x2="634.20" y2="182.90" stroke="#ececec" stroke-width="0.55"/>
<line x1="479.40" y1="193.81" x2="634.20" y2="193.81" stroke="#ececec" stroke-width="0.55"/>
<line x1="479.40" y1="204.72" x2="634.20" y2="204.72" stroke="#ececec" stroke-width="0.55"/>
<line x1="479.40" y1="215.63" x2="634.20" y2="215.63" stroke="#ececec" stroke-width="0.55"/>
<line x1="479.40" y1="226.54" x2="634.20" y2="226.54" stroke="#ececec" stroke-width="0.55"/>
<line x1="479.40" y1="237.45" x2="634.20" y2="237.45" stroke="#ececec" stroke-width="0.55"/>
<rect x="479.40" y="23.60" width="154.80" height="220.40" fill="none" stroke="#a4a4a4" stroke-width="0.7"/>
<line x1="477.90" y1="30.15" x2="479.40" y2="30.15" stroke="#555" stroke-width="0.5"/>
<text x="477.40" y="31.13" font-size="7.00" fill="#4d4d4d" stroke="#4d4d4d" text-anchor="end">Pancreatic secretion</text>
<circle cx="627.70" cy="30.15" r="2.05" fill="#c9a030"/>
<line x1="477.90" y1="41.06" x2="479.40" y2="41.06" stroke="#555" stroke-width="0.5"/>
<text x="477.40" y="42.04" font-size="7.00" fill="#4d4d4d" stroke="#4d4d4d" text-anchor="end">Gap junction</text>
<circle cx="580.20" cy="41.06" r="1.95" fill="#8ccb38"/>
<line x1="477.90" y1="51.97" x2="479.40" y2="51.97" stroke="#555" stroke-width="0.5"/>
<text x="477.40" y="52.95" font-size="7.00" fill="#4d4d4d" stroke="#4d4d4d" text-anchor="end">Parathyroid hormone synthesis, secretion and action</text>
<circle cx="562.20" cy="51.97" r="1.95" fill="#8ccb38"/>
<line x1="477.90" y1="62.88" x2="479.40" y2="62.88" stroke="#555" stroke-width="0.5"/>
<text x="477.40" y="63.86" font-size="7.00" fill="#4d4d4d" stroke="#4d4d4d" text-anchor="end">Estrogen signaling pathway</text>
<circle cx="554.20" cy="62.88" r="1.95" fill="#8ccb38"/>
<line x1="477.90" y1="73.79" x2="479.40" y2="73.79" stroke="#555" stroke-width="0.5"/>
<text x="477.40" y="74.77" font-size="7.00" fill="#4d4d4d" stroke="#4d4d4d" text-anchor="end">cAMP signaling pathway</text>
<circle cx="549.70" cy="73.79" r="2.45" fill="#7cc83a"/>
<line x1="477.90" y1="84.70" x2="479.40" y2="84.70" stroke="#555" stroke-width="0.5"/>
<text x="477.40" y="85.68" font-size="7.00" fill="#4d4d4d" stroke="#4d4d4d" text-anchor="end">Longevity regulating pathway − multiple species</text>
<circle cx="538.10" cy="84.70" r="1.45" fill="#c9a030"/>
<line x1="477.90" y1="95.61" x2="479.40" y2="95.61" stroke="#555" stroke-width="0.5"/>
<text x="477.40" y="96.59" font-size="7.00" fill="#4d4d4d" stroke="#4d4d4d" text-anchor="end">IL−17 signaling pathway</text>
<circle cx="531.70" cy="95.61" r="1.45" fill="#b4b030"/>
<line x1="477.90" y1="106.52" x2="479.40" y2="106.52" stroke="#555" stroke-width="0.5"/>
<text x="477.40" y="107.50" font-size="7.00" fill="#4d4d4d" stroke="#4d4d4d" text-anchor="end">GnRH signaling pathway</text>
<circle cx="530.30" cy="106.52" r="1.75" fill="#8ccb38"/>
<line x1="477.90" y1="117.43" x2="479.40" y2="117.43" stroke="#555" stroke-width="0.5"/>
<text x="477.40" y="118.41" font-size="7.00" fill="#4d4d4d" stroke="#4d4d4d" text-anchor="end">MAPK signaling pathway</text>
<circle cx="526.50" cy="117.43" r="2.25" fill="#7cc83a"/>
<line x1="477.90" y1="128.34" x2="479.40" y2="128.34" stroke="#555" stroke-width="0.5"/>
<text x="477.40" y="129.32" font-size="7.00" fill="#4d4d4d" stroke="#4d4d4d" text-anchor="end">PPAR signaling pathway</text>
<circle cx="525.80" cy="128.34" r="1.55" fill="#a4c232"/>
<line x1="477.90" y1="139.26" x2="479.40" y2="139.26" stroke="#555" stroke-width="0.5"/>
<text x="477.40" y="140.24" font-size="7.00" fill="#4d4d4d" stroke="#4d4d4d" text-anchor="end">Fanconi anemia pathway</text>
<circle cx="524.60" cy="139.26" r="0.95" fill="#e8301e"/>
<line x1="477.90" y1="150.17" x2="479.40" y2="150.17" stroke="#555" stroke-width="0.5"/>
<text x="477.40" y="151.15" font-size="7.00" fill="#4d4d4d" stroke="#4d4d4d" text-anchor="end">Insulin secretion</text>
<circle cx="520.30" cy="150.17" r="1.75" fill="#98c834"/>
<line x1="477.90" y1="161.08" x2="479.40" y2="161.08" stroke="#555" stroke-width="0.5"/>
<text x="477.40" y="162.06" font-size="7.00" fill="#4d4d4d" stroke="#4d4d4d" text-anchor="end">Salivary secretion</text>
<circle cx="515.10" cy="161.08" r="1.75" fill="#8ccb38"/>
<line x1="477.90" y1="171.99" x2="479.40" y2="171.99" stroke="#555" stroke-width="0.5"/>
<text x="477.40" y="172.97" font-size="7.00" fill="#4d4d4d" stroke="#4d4d4d" text-anchor="end">Cholinergic synapse</text>
<circle cx="512.30" cy="171.99" r="2.05" fill="#7cc83a"/>
<line x1="477.90" y1="182.90" x2="479.40" y2="182.90" stroke="#555" stroke-width="0.5"/>
<text x="477.40" y="183.88" font-size="7.00" fill="#4d4d4d" stroke="#4d4d4d" text-anchor="end">TNF signaling pathway</text>
<circle cx="510.60" cy="182.90" r="1.65" fill="#8ccb38"/>
<line x1="477.90" y1="193.81" x2="479.40" y2="193.81" stroke="#555" stroke-width="0.5"/>
<text x="477.40" y="194.79" font-size="7.00" fill="#4d4d4d" stroke="#4d4d4d" text-anchor="end">Insulin signaling pathway</text>
<circle cx="508.70" cy="193.81" r="2.05" fill="#7cc83a"/>
<line x1="477.90" y1="204.72" x2="479.40" y2="204.72" stroke="#555" stroke-width="0.5"/>
<text x="477.40" y="205.70" font-size="7.00" fill="#4d4d4d" stroke="#4d4d4d" text-anchor="end">Citrate cycle (TCA cycle)</text>
<circle cx="505.90" cy="204.72" r="0.95" fill="#e09a3a"/>
<line x1="477.90" y1="215.63" x2="479.40" y2="215.63" stroke="#555" stroke-width="0.5"/>
<text x="477.40" y="216.61" font-size="7.00" fill="#4d4d4d" stroke="#4d4d4d" text-anchor="end">Notch signaling pathway</text>
<circle cx="498.60" cy="215.63" r="0.95" fill="#e09a3a"/>
<line x1="477.90" y1="226.54" x2="479.40" y2="226.54" stroke="#555" stroke-width="0.5"/>
<text x="477.40" y="227.52" font-size="7.00" fill="#4d4d4d" stroke="#4d4d4d" text-anchor="end">Osteoclast differentiation</text>
<circle cx="487.00" cy="226.54" r="2.05" fill="#7cc83a"/>
<line x1="477.90" y1="237.45" x2="479.40" y2="237.45" stroke="#555" stroke-width="0.5"/>
<text x="477.40" y="238.43" font-size="7.00" fill="#4d4d4d" stroke="#4d4d4d" text-anchor="end">Arginine and proline metabolism</text>
<circle cx="486.50" cy="237.45" r="1.05" fill="#a4c232"/>
<line x1="501.00" y1="244.00" x2="501.00" y2="245.50" stroke="#555" stroke-width="0.5"/>
<text x="503.00" y="250.09" font-size="5.80" fill="#4d4d4d" stroke="#4d4d4d" text-anchor="middle">1.5</text>
<line x1="537.80" y1="244.00" x2="537.80" y2="245.50" stroke="#555" stroke-width="0.5"/>
<text x="539.80" y="250.09" font-size="5.80" fill="#4d4d4d" stroke="#4d4d4d" text-anchor="middle">2.0</text>
<line x1="574.60" y1="244.00" x2="574.60" y2="245.50" stroke="#555" stroke-width="0.5"/>
<text x="576.60" y="250.09" font-size="5.80" fill="#4d4d4d" stroke="#4d4d4d" text-anchor="middle">2.5</text>
<line x1="611.40" y1="244.00" x2="611.40" y2="245.50" stroke="#555" stroke-width="0.5"/>
<text x="613.40" y="250.09" font-size="5.80" fill="#4d4d4d" stroke="#4d4d4d" text-anchor="middle">3.0</text>
<text x="558.50" y="257.20" font-size="6.10" fill="#1a1a1a" stroke="#1a1a1a" text-anchor="middle">−log<tspan font-size="4.57" dy="2.75">10</tspan><tspan dy="-2.75">(p.value)</tspan></text>
<text x="640.20" y="96.47" font-size="5.90" fill="#1a1a1a" stroke="#1a1a1a" text-anchor="start">Gene number</text>
<circle cx="643.00" cy="101.20" r="0.60" fill="#111"/>
<text x="648.00" y="103.32" font-size="5.90" fill="#1a1a1a" stroke="#1a1a1a" text-anchor="start">2</text>
<circle cx="643.00" cy="107.10" r="1.05" fill="#111"/>
<text x="648.00" y="109.22" font-size="5.90" fill="#1a1a1a" stroke="#1a1a1a" text-anchor="start">3</text>
<circle cx="643.00" cy="112.80" r="1.40" fill="#111"/>
<text x="648.00" y="114.92" font-size="5.90" fill="#1a1a1a" stroke="#1a1a1a" text-anchor="start">4</text>
<circle cx="643.00" cy="118.50" r="1.75" fill="#111"/>
<text x="648.00" y="120.62" font-size="5.90" fill="#1a1a1a" stroke="#1a1a1a" text-anchor="start">5</text>
<circle cx="643.00" cy="124.40" r="2.00" fill="#111"/>
<text x="648.00" y="126.52" font-size="5.90" fill="#1a1a1a" stroke="#1a1a1a" text-anchor="start">6</text>
<circle cx="643.00" cy="130.50" r="2.30" fill="#111"/>
<text x="648.00" y="132.62" font-size="5.90" fill="#1a1a1a" stroke="#1a1a1a" text-anchor="start">7</text>
<text x="640.20" y="143.87" font-size="5.90" fill="#1a1a1a" stroke="#1a1a1a" text-anchor="start">Rich factor</text>
<defs><linearGradient id="r1" x1="0" y1="0" x2="0" y2="1"><stop offset="0" stop-color="#e8281e"/><stop offset="0.3" stop-color="#d87028"/><stop offset="0.55" stop-color="#bca02e"/><stop offset="0.78" stop-color="#9ccb38"/><stop offset="1" stop-color="#78c63a"/></linearGradient></defs>
<rect x="640.20" y="147.20" width="5.80" height="28.60" fill="url(#r1)" stroke="none" stroke-width="0"/>
<text x="648.00" y="152.12" font-size="5.90" fill="#1a1a1a" stroke="#1a1a1a" text-anchor="start">0.30</text>
<text x="648.00" y="158.32" font-size="5.90" fill="#1a1a1a" stroke="#1a1a1a" text-anchor="start">0.25</text>
<text x="648.00" y="164.42" font-size="5.90" fill="#1a1a1a" stroke="#1a1a1a" text-anchor="start">0.20</text>
<text x="648.00" y="170.62" font-size="5.90" fill="#1a1a1a" stroke="#1a1a1a" text-anchor="start">0.15</text>
<text x="648.00" y="176.52" font-size="5.90" fill="#1a1a1a" stroke="#1a1a1a" text-anchor="start">0.10</text>
<text x="319.70" y="270.10" font-size="10.30" fill="#1a1a1a" stroke="#1a1a1a" text-anchor="start" style="stroke-width:0.08px">T6 vs T3</text>
<rect x="492.20" y="326.50" width="143.20" height="213.50" fill="#fff" stroke="none" stroke-width="0"/>
<line x1="504.60" y1="326.50" x2="504.60" y2="540.00" stroke="#f3f3f3" stroke-width="0.45"/>
<line x1="540.60" y1="326.50" x2="540.60" y2="540.00" stroke="#f3f3f3" stroke-width="0.45"/>
<line x1="576.60" y1="326.50" x2="576.60" y2="540.00" stroke="#f3f3f3" stroke-width="0.45"/>
<line x1="612.60" y1="326.50" x2="612.60" y2="540.00" stroke="#f3f3f3" stroke-width="0.45"/>
<line x1="522.60" y1="326.50" x2="522.60" y2="540.00" stroke="#ececec" stroke-width="0.55"/>
<line x1="558.60" y1="326.50" x2="558.60" y2="540.00" stroke="#ececec" stroke-width="0.55"/>
<line x1="594.60" y1="326.50" x2="594.60" y2="540.00" stroke="#ececec" stroke-width="0.55"/>
<line x1="630.60" y1="326.50" x2="630.60" y2="540.00" stroke="#ececec" stroke-width="0.55"/>
<line x1="492.20" y1="332.84" x2="635.40" y2="332.84" stroke="#ececec" stroke-width="0.55"/>
<line x1="492.20" y1="343.41" x2="635.40" y2="343.41" stroke="#ececec" stroke-width="0.55"/>
<line x1="492.20" y1="353.98" x2="635.40" y2="353.98" stroke="#ececec" stroke-width="0.55"/>
<line x1="492.20" y1="364.55" x2="635.40" y2="364.55" stroke="#ececec" stroke-width="0.55"/>
<line x1="492.20" y1="375.12" x2="635.40" y2="375.12" stroke="#ececec" stroke-width="0.55"/>
<line x1="492.20" y1="385.69" x2="635.40" y2="385.69" stroke="#ececec" stroke-width="0.55"/>
<line x1="492.20" y1="396.26" x2="635.40" y2="396.26" stroke="#ececec" stroke-width="0.55"/>
<line x1="492.20" y1="406.83" x2="635.40" y2="406.83" stroke="#ececec" stroke-width="0.55"/>
<line x1="492.20" y1="417.40" x2="635.40" y2="417.40" stroke="#ececec" stroke-width="0.55"/>
<line x1="492.20" y1="427.97" x2="635.40" y2="427.97" stroke="#ececec" stroke-width="0.55"/>
<line x1="492.20" y1="438.53" x2="635.40" y2="438.53" stroke="#ececec" stroke-width="0.55"/>
<line x1="492.20" y1="449.10" x2="635.40" y2="449.10" stroke="#ececec" stroke-width="0.55"/>
<line x1="492.20" y1="459.67" x2="635.40" y2="459.67" stroke="#ececec" stroke-width="0.55"/>
<line x1="492.20" y1="470.24" x2="635.40" y2="470.24" stroke="#ececec" stroke-width="0.55"/>
<line x1="492.20" y1="480.81" x2="635.40" y2="480.81" stroke="#ececec" stroke-width="0.55"/>
<line x1="492.20" y1="491.38" x2="635.40" y2="491.38" stroke="#ececec" stroke-width="0.55"/>
<line x1="492.20" y1="501.95" x2="635.40" y2="501.95" stroke="#ececec" stroke-width="0.55"/>
<line x1="492.20" y1="512.52" x2="635.40" y2="512.52" stroke="#ececec" stroke-width="0.55"/>
<line x1="492.20" y1="523.09" x2="635.40" y2="523.09" stroke="#ececec" stroke-width="0.55"/>
<line x1="492.20" y1="533.66" x2="635.40" y2="533.66" stroke="#ececec" stroke-width="0.55"/>
<rect x="492.20" y="326.50" width="143.20" height="213.50" fill="none" stroke="#a4a4a4" stroke-width="0.7"/>
<line x1="490.70" y1="332.84" x2="492.20" y2="332.84" stroke="#555" stroke-width="0.5"/>
<text x="489.90" y="333.79" font-size="6.80" fill="#4d4d4d" stroke="#4d4d4d" text-anchor="end">Other types of O−glycan biosynthesis</text>
<circle cx="629.10" cy="332.84" r="1.05" fill="#d8782a"/>
<line x1="490.70" y1="343.41" x2="492.20" y2="343.41" stroke="#555" stroke-width="0.5"/>
<text x="489.90" y="344.36" font-size="6.80" fill="#4d4d4d" stroke="#4d4d4d" text-anchor="end">Mucin type O−glycan biosynthesis</text>
<circle cx="610.50" cy="343.41" r="1.05" fill="#e8301e"/>
<line x1="490.70" y1="353.98" x2="492.20" y2="353.98" stroke="#555" stroke-width="0.5"/>
<text x="489.90" y="354.93" font-size="6.80" fill="#4d4d4d" stroke="#4d4d4d" text-anchor="end">Cytokine−cytokine receptor interaction</text>
<circle cx="581.00" cy="353.98" r="1.75" fill="#8ccb38"/>
<line x1="490.70" y1="364.55" x2="492.20" y2="364.55" stroke="#555" stroke-width="0.5"/>
<text x="489.90" y="365.50" font-size="6.80" fill="#4d4d4d" stroke="#4d4d4d" text-anchor="end">Gap junction</text>
<circle cx="565.00" cy="364.55" r="1.65" fill="#8ccb38"/>
<line x1="490.70" y1="375.12" x2="492.20" y2="375.12" stroke="#555" stroke-width="0.5"/>
<text x="489.90" y="376.07" font-size="6.80" fill="#4d4d4d" stroke="#4d4d4d" text-anchor="end">PPAR signaling pathway</text>
<circle cx="560.60" cy="375.12" r="1.55" fill="#8ccb38"/>
<line x1="490.70" y1="385.69" x2="492.20" y2="385.69" stroke="#555" stroke-width="0.5"/>
<text x="489.90" y="386.64" font-size="6.80" fill="#4d4d4d" stroke="#4d4d4d" text-anchor="end">Metabolic pathways</text>
<circle cx="558.10" cy="385.69" r="2.85" fill="#7cc83a"/>
<line x1="490.70" y1="396.26" x2="492.20" y2="396.26" stroke="#555" stroke-width="0.5"/>
<text x="489.90" y="397.21" font-size="6.80" fill="#4d4d4d" stroke="#4d4d4d" text-anchor="end">Various types of N−glycan biosynthesis</text>
<circle cx="555.90" cy="396.26" r="1.25" fill="#a4c232"/>
<line x1="490.70" y1="406.83" x2="492.20" y2="406.83" stroke="#555" stroke-width="0.5"/>
<text x="489.90" y="407.78" font-size="6.80" fill="#4d4d4d" stroke="#4d4d4d" text-anchor="end">Autophagy − animal</text>
<circle cx="551.00" cy="406.83" r="1.65" fill="#8ccb38"/>
<line x1="490.70" y1="417.40" x2="492.20" y2="417.40" stroke="#555" stroke-width="0.5"/>
<text x="489.90" y="418.35" font-size="6.80" fill="#4d4d4d" stroke="#4d4d4d" text-anchor="end">Mitophagy − animal</text>
<circle cx="544.10" cy="417.40" r="1.45" fill="#8ccb38"/>
<line x1="490.70" y1="427.97" x2="492.20" y2="427.97" stroke="#555" stroke-width="0.5"/>
<text x="489.90" y="428.92" font-size="6.80" fill="#4d4d4d" stroke="#4d4d4d" text-anchor="end">Glycosphingolipid biosynthesis − lacto and neolacto series</text>
<circle cx="540.60" cy="427.97" r="1.25" fill="#a4c232"/>
<line x1="490.70" y1="438.53" x2="492.20" y2="438.53" stroke="#555" stroke-width="0.5"/>
<text x="489.90" y="439.49" font-size="6.80" fill="#4d4d4d" stroke="#4d4d4d" text-anchor="end">Ether lipid metabolism</text>
<circle cx="525.50" cy="438.53" r="1.05" fill="#a4c232"/>
<line x1="490.70" y1="449.10" x2="492.20" y2="449.10" stroke="#555" stroke-width="0.5"/>
<text x="489.90" y="450.06" font-size="6.80" fill="#4d4d4d" stroke="#4d4d4d" text-anchor="end">Adipocytokine signaling pathway</text>
<circle cx="524.20" cy="449.10" r="1.45" fill="#8ccb38"/>
<line x1="490.70" y1="459.67" x2="492.20" y2="459.67" stroke="#555" stroke-width="0.5"/>
<text x="489.90" y="460.63" font-size="6.80" fill="#4d4d4d" stroke="#4d4d4d" text-anchor="end">AMPK signaling pathway</text>
<circle cx="517.50" cy="459.67" r="1.75" fill="#7cc83a"/>
<line x1="490.70" y1="470.24" x2="492.20" y2="470.24" stroke="#555" stroke-width="0.5"/>
<text x="489.90" y="471.19" font-size="6.80" fill="#4d4d4d" stroke="#4d4d4d" text-anchor="end">Longevity regulating pathway</text>
<circle cx="517.10" cy="470.24" r="1.55" fill="#8ccb38"/>
<line x1="490.70" y1="480.81" x2="492.20" y2="480.81" stroke="#555" stroke-width="0.5"/>
<text x="489.90" y="481.76" font-size="6.80" fill="#4d4d4d" stroke="#4d4d4d" text-anchor="end">Arginine and proline metabolism</text>
<circle cx="516.60" cy="480.81" r="1.45" fill="#8ccb38"/>
<line x1="490.70" y1="491.38" x2="492.20" y2="491.38" stroke="#555" stroke-width="0.5"/>
<text x="489.90" y="492.33" font-size="6.80" fill="#4d4d4d" stroke="#4d4d4d" text-anchor="end">mTOR signaling pathway</text>
<circle cx="516.40" cy="491.38" r="1.75" fill="#7cc83a"/>
<line x1="490.70" y1="501.95" x2="492.20" y2="501.95" stroke="#555" stroke-width="0.5"/>
<text x="489.90" y="502.90" font-size="6.80" fill="#4d4d4d" stroke="#4d4d4d" text-anchor="end">Serotonergic synapse</text>
<circle cx="514.00" cy="501.95" r="1.65" fill="#7cc83a"/>
<line x1="490.70" y1="512.52" x2="492.20" y2="512.52" stroke="#555" stroke-width="0.5"/>
<text x="489.90" y="513.47" font-size="6.80" fill="#4d4d4d" stroke="#4d4d4d" text-anchor="end">Aldosterone−regulated sodium reabsorption</text>
<circle cx="512.80" cy="512.52" r="0.95" fill="#e09a3a"/>
<line x1="490.70" y1="523.09" x2="492.20" y2="523.09" stroke="#555" stroke-width="0.5"/>
<text x="489.90" y="524.04" font-size="6.80" fill="#4d4d4d" stroke="#4d4d4d" text-anchor="end">Fructose and mannose metabolism</text>
<circle cx="499.10" cy="523.09" r="1.25" fill="#8ccb38"/>
<line x1="490.70" y1="533.66" x2="492.20" y2="533.66" stroke="#555" stroke-width="0.5"/>
<text x="489.90" y="534.61" font-size="6.80" fill="#4d4d4d" stroke="#4d4d4d" text-anchor="end">Amino sugar and nucleotide sugar metabolism</text>
<circle cx="499.10" cy="533.66" r="1.25" fill="#8ccb38"/>
<line x1="522.60" y1="540.00" x2="522.60" y2="541.50" stroke="#555" stroke-width="0.5"/>
<text x="524.60" y="546.32" font-size="5.60" fill="#4d4d4d" stroke="#4d4d4d" text-anchor="middle">1.5</text>
<line x1="558.60" y1="540.00" x2="558.60" y2="541.50" stroke="#555" stroke-width="0.5"/>
<text x="560.60" y="546.32" font-size="5.60" fill="#4d4d4d" stroke="#4d4d4d" text-anchor="middle">2.0</text>
<line x1="594.60" y1="540.00" x2="594.60" y2="541.50" stroke="#555" stroke-width="0.5"/>
<text x="596.60" y="546.32" font-size="5.60" fill="#4d4d4d" stroke="#4d4d4d" text-anchor="middle">2.5</text>
<line x1="630.60" y1="540.00" x2="630.60" y2="541.50" stroke="#555" stroke-width="0.5"/>
<text x="632.60" y="546.32" font-size="5.60" fill="#4d4d4d" stroke="#4d4d4d" text-anchor="middle">3.0</text>
<text x="575.00" y="553.00" font-size="5.60" fill="#1a1a1a" stroke="#1a1a1a" text-anchor="middle">−log<tspan font-size="4.20" dy="2.52">10</tspan><tspan dy="-2.52">(p.value)</tspan></text>
<text x="640.80" y="400.67" font-size="5.90" fill="#1a1a1a" stroke="#1a1a1a" text-anchor="start">Gene number</text>
<circle cx="643.80" cy="405.50" r="1.10" fill="#111"/>
<text x="648.60" y="407.62" font-size="5.90" fill="#1a1a1a" stroke="#1a1a1a" text-anchor="start">10</text>
<circle cx="643.80" cy="411.20" r="1.55" fill="#111"/>
<text x="648.60" y="413.32" font-size="5.90" fill="#1a1a1a" stroke="#1a1a1a" text-anchor="start">20</text>
<circle cx="643.80" cy="416.80" r="1.90" fill="#111"/>
<text x="648.60" y="418.92" font-size="5.90" fill="#1a1a1a" stroke="#1a1a1a" text-anchor="start">30</text>
<circle cx="643.80" cy="422.70" r="2.20" fill="#111"/>
<text x="648.60" y="424.82" font-size="5.90" fill="#1a1a1a" stroke="#1a1a1a" text-anchor="start">40</text>
<text x="640.80" y="436.17" font-size="5.90" fill="#1a1a1a" stroke="#1a1a1a" text-anchor="start">Rich factor</text>
<defs><linearGradient id="r2" x1="0" y1="0" x2="0" y2="1"><stop offset="0" stop-color="#e8281e"/><stop offset="0.3" stop-color="#d87028"/><stop offset="0.55" stop-color="#bca02e"/><stop offset="0.78" stop-color="#9ccb38"/><stop offset="1" stop-color="#78c63a"/></linearGradient></defs>
<rect x="640.80" y="440.60" width="6.20" height="28.60" fill="url(#r2)" stroke="none" stroke-width="0"/>
<text x="648.60" y="442.72" font-size="5.90" fill="#1a1a1a" stroke="#1a1a1a" text-anchor="start">1.0</text>
<text x="648.60" y="449.72" font-size="5.90" fill="#1a1a1a" stroke="#1a1a1a" text-anchor="start">0.8</text>
<text x="648.60" y="456.22" font-size="5.90" fill="#1a1a1a" stroke="#1a1a1a" text-anchor="start">0.6</text>
<text x="648.60" y="462.72" font-size="5.90" fill="#1a1a1a" stroke="#1a1a1a" text-anchor="start">0.4</text>
<text x="648.60" y="469.22" font-size="5.90" fill="#1a1a1a" stroke="#1a1a1a" text-anchor="start">0.2</text>
<text x="320.00" y="566.50" font-size="10.30" fill="#1a1a1a" stroke="#1a1a1a" text-anchor="start" style="stroke-width:0.08px">T12 vs T3</text>
<rect x="469.00" y="591.20" width="166.40" height="227.10" fill="#fff" stroke="none" stroke-width="0"/>
<line x1="507.50" y1="591.20" x2="507.50" y2="818.30" stroke="#f3f3f3" stroke-width="0.45"/>
<line x1="548.50" y1="591.20" x2="548.50" y2="818.30" stroke="#f3f3f3" stroke-width="0.45"/>
<line x1="589.50" y1="591.20" x2="589.50" y2="818.30" stroke="#f3f3f3" stroke-width="0.45"/>
<line x1="630.50" y1="591.20" x2="630.50" y2="818.30" stroke="#f3f3f3" stroke-width="0.45"/>
<line x1="487.00" y1="591.20" x2="487.00" y2="818.30" stroke="#ececec" stroke-width="0.55"/>
<line x1="528.00" y1="591.20" x2="528.00" y2="818.30" stroke="#ececec" stroke-width="0.55"/>
<line x1="569.00" y1="591.20" x2="569.00" y2="818.30" stroke="#ececec" stroke-width="0.55"/>
<line x1="610.00" y1="591.20" x2="610.00" y2="818.30" stroke="#ececec" stroke-width="0.55"/>
<line x1="469.00" y1="597.95" x2="635.40" y2="597.95" stroke="#ececec" stroke-width="0.55"/>
<line x1="469.00" y1="609.19" x2="635.40" y2="609.19" stroke="#ececec" stroke-width="0.55"/>
<line x1="469.00" y1="620.43" x2="635.40" y2="620.43" stroke="#ececec" stroke-width="0.55"/>
<line x1="469.00" y1="631.67" x2="635.40" y2="631.67" stroke="#ececec" stroke-width="0.55"/>
<line x1="469.00" y1="642.92" x2="635.40" y2="642.92" stroke="#ececec" stroke-width="0.55"/>
<line x1="469.00" y1="654.16" x2="635.40" y2="654.16" stroke="#ececec" stroke-width="0.55"/>
<line x1="469.00" y1="665.40" x2="635.40" y2="665.40" stroke="#ececec" stroke-width="0.55"/>
<line x1="469.00" y1="676.64" x2="635.40" y2="676.64" stroke="#ececec" stroke-width="0.55"/>
<line x1="469.00" y1="687.89" x2="635.40" y2="687.89" stroke="#ececec" stroke-width="0.55"/>
<line x1="469.00" y1="699.13" x2="635.40" y2="699.13" stroke="#ececec" stroke-width="0.55"/>
<line x1="469.00" y1="710.37" x2="635.40" y2="710.37" stroke="#ececec" stroke-width="0.55"/>
<line x1="469.00" y1="721.61" x2="635.40" y2="721.61" stroke="#ececec" stroke-width="0.55"/>
<line x1="469.00" y1="732.86" x2="635.40" y2="732.86" stroke="#ececec" stroke-width="0.55"/>
<line x1="469.00" y1="744.10" x2="635.40" y2="744.10" stroke="#ececec" stroke-width="0.55"/>
<line x1="469.00" y1="755.34" x2="635.40" y2="755.34" stroke="#ececec" stroke-width="0.55"/>
<line x1="469.00" y1="766.58" x2="635.40" y2="766.58" stroke="#ececec" stroke-width="0.55"/>
<line x1="469.00" y1="777.83" x2="635.40" y2="777.83" stroke="#ececec" stroke-width="0.55"/>
<line x1="469.00" y1="789.07" x2="635.40" y2="789.07" stroke="#ececec" stroke-width="0.55"/>
<line x1="469.00" y1="800.31" x2="635.40" y2="800.31" stroke="#ececec" stroke-width="0.55"/>
<line x1="469.00" y1="811.55" x2="635.40" y2="811.55" stroke="#ececec" stroke-width="0.55"/>
<rect x="469.00" y="591.20" width="166.40" height="227.10" fill="none" stroke="#a4a4a4" stroke-width="0.7"/>
<line x1="467.50" y1="597.95" x2="469.00" y2="597.95" stroke="#555" stroke-width="0.5"/>
<text x="466.10" y="598.95" font-size="7.18" fill="#4d4d4d" stroke="#4d4d4d" text-anchor="end">Autophagy − animal</text>
<circle cx="627.70" cy="597.95" r="2.25" fill="#d0a028"/>
<line x1="467.50" y1="609.19" x2="469.00" y2="609.19" stroke="#555" stroke-width="0.5"/>
<text x="466.10" y="610.19" font-size="7.18" fill="#4d4d4d" stroke="#4d4d4d" text-anchor="end">ECM−receptor interaction</text>
<circle cx="547.30" cy="609.19" r="1.55" fill="#d8842a"/>
<line x1="467.50" y1="620.43" x2="469.00" y2="620.43" stroke="#555" stroke-width="0.5"/>
<text x="466.10" y="621.44" font-size="7.18" fill="#4d4d4d" stroke="#4d4d4d" text-anchor="end">VEGF signaling pathway</text>
<circle cx="528.40" cy="620.43" r="1.65" fill="#bca02e"/>
<line x1="467.50" y1="631.67" x2="469.00" y2="631.67" stroke="#555" stroke-width="0.5"/>
<text x="466.10" y="632.68" font-size="7.18" fill="#4d4d4d" stroke="#4d4d4d" text-anchor="end">Mitophagy − animal</text>
<circle cx="521.20" cy="631.67" r="1.35" fill="#d8842a"/>
<line x1="467.50" y1="642.92" x2="469.00" y2="642.92" stroke="#555" stroke-width="0.5"/>
<text x="466.10" y="643.92" font-size="7.18" fill="#4d4d4d" stroke="#4d4d4d" text-anchor="end">Longevity regulating pathway − worm</text>
<circle cx="520.20" cy="642.92" r="1.55" fill="#b4aa30"/>
<line x1="467.50" y1="654.16" x2="469.00" y2="654.16" stroke="#555" stroke-width="0.5"/>
<text x="466.10" y="655.16" font-size="7.18" fill="#4d4d4d" stroke="#4d4d4d" text-anchor="end">FoxO signaling pathway</text>
<circle cx="517.40" cy="654.16" r="1.75" fill="#8ccb38"/>
<line x1="467.50" y1="665.40" x2="469.00" y2="665.40" stroke="#555" stroke-width="0.5"/>
<text x="466.10" y="666.41" font-size="7.18" fill="#4d4d4d" stroke="#4d4d4d" text-anchor="end">Axon guidance</text>
<circle cx="515.30" cy="665.40" r="2.15" fill="#7cc83a"/>
<line x1="467.50" y1="676.64" x2="469.00" y2="676.64" stroke="#555" stroke-width="0.5"/>
<text x="466.10" y="677.65" font-size="7.18" fill="#4d4d4d" stroke="#4d4d4d" text-anchor="end">Longevity regulating pathway</text>
<circle cx="512.50" cy="676.64" r="1.55" fill="#a8b432"/>
<line x1="467.50" y1="687.89" x2="469.00" y2="687.89" stroke="#555" stroke-width="0.5"/>
<text x="466.10" y="688.89" font-size="7.18" fill="#4d4d4d" stroke="#4d4d4d" text-anchor="end">Insulin signaling pathway</text>
<circle cx="506.60" cy="687.89" r="1.85" fill="#7cc83a"/>
<line x1="467.50" y1="699.13" x2="469.00" y2="699.13" stroke="#555" stroke-width="0.5"/>
<text x="466.10" y="700.13" font-size="7.18" fill="#4d4d4d" stroke="#4d4d4d" text-anchor="end">Protein digestion and absorption</text>
<circle cx="505.60" cy="699.13" r="1.55" fill="#8ccb38"/>
<line x1="467.50" y1="710.37" x2="469.00" y2="710.37" stroke="#555" stroke-width="0.5"/>
<text x="466.10" y="711.38" font-size="7.18" fill="#4d4d4d" stroke="#4d4d4d" text-anchor="end">Adipocytokine signaling pathway</text>
<circle cx="502.60" cy="710.37" r="1.55" fill="#b8a630"/>
<line x1="467.50" y1="721.61" x2="469.00" y2="721.61" stroke="#555" stroke-width="0.5"/>
<text x="466.10" y="722.62" font-size="7.18" fill="#4d4d4d" stroke="#4d4d4d" text-anchor="end">TNF signaling pathway</text>
<circle cx="500.30" cy="721.61" r="1.55" fill="#a4b832"/>
<line x1="467.50" y1="732.86" x2="469.00" y2="732.86" stroke="#555" stroke-width="0.5"/>
<text x="466.10" y="733.86" font-size="7.18" fill="#4d4d4d" stroke="#4d4d4d" text-anchor="end">PI3K−Akt signaling pathway</text>
<circle cx="495.10" cy="732.86" r="2.45" fill="#7cc83a"/>
<line x1="467.50" y1="744.10" x2="469.00" y2="744.10" stroke="#555" stroke-width="0.5"/>
<text x="466.10" y="745.10" font-size="7.18" fill="#4d4d4d" stroke="#4d4d4d" text-anchor="end">Ether lipid metabolism</text>
<circle cx="494.40" cy="744.10" r="0.95" fill="#e8301e"/>
<line x1="467.50" y1="755.34" x2="469.00" y2="755.34" stroke="#555" stroke-width="0.5"/>
<text x="466.10" y="756.35" font-size="7.18" fill="#4d4d4d" stroke="#4d4d4d" text-anchor="end">MAPK signaling pathway</text>
<circle cx="489.80" cy="755.34" r="2.15" fill="#7cc83a"/>
<line x1="467.50" y1="766.58" x2="469.00" y2="766.58" stroke="#555" stroke-width="0.5"/>
<text x="466.10" y="767.59" font-size="7.18" fill="#4d4d4d" stroke="#4d4d4d" text-anchor="end">Prolactin signaling pathway</text>
<circle cx="487.50" cy="766.58" r="1.55" fill="#8ccb38"/>
<line x1="467.50" y1="777.83" x2="469.00" y2="777.83" stroke="#555" stroke-width="0.5"/>
<text x="466.10" y="778.83" font-size="7.18" fill="#4d4d4d" stroke="#4d4d4d" text-anchor="end">Longevity regulating pathway − multiple species</text>
<circle cx="481.90" cy="777.83" r="1.35" fill="#b0ae30"/>
<line x1="467.50" y1="789.07" x2="469.00" y2="789.07" stroke="#555" stroke-width="0.5"/>
<text x="466.10" y="790.07" font-size="7.18" fill="#4d4d4d" stroke="#4d4d4d" text-anchor="end">Autophagy − other</text>
<circle cx="481.40" cy="789.07" r="0.85" fill="#e07030"/>
<line x1="467.50" y1="800.31" x2="469.00" y2="800.31" stroke="#555" stroke-width="0.5"/>
<text x="466.10" y="801.32" font-size="7.18" fill="#4d4d4d" stroke="#4d4d4d" text-anchor="end">Ras signaling pathway</text>
<circle cx="478.30" cy="800.31" r="2.35" fill="#7cc83a"/>
<line x1="467.50" y1="811.55" x2="469.00" y2="811.55" stroke="#555" stroke-width="0.5"/>
<text x="466.10" y="812.56" font-size="7.18" fill="#4d4d4d" stroke="#4d4d4d" text-anchor="end">Jak−STAT signaling pathway</text>
<circle cx="476.50" cy="811.55" r="1.65" fill="#7cc83a"/>
<line x1="487.00" y1="818.30" x2="487.00" y2="819.80" stroke="#555" stroke-width="0.5"/>
<text x="487.50" y="824.33" font-size="6.20" fill="#4d4d4d" stroke="#4d4d4d" text-anchor="middle">2</text>
<line x1="528.00" y1="818.30" x2="528.00" y2="819.80" stroke="#555" stroke-width="0.5"/>
<text x="528.50" y="824.33" font-size="6.20" fill="#4d4d4d" stroke="#4d4d4d" text-anchor="middle">3</text>
<line x1="569.00" y1="818.30" x2="569.00" y2="819.80" stroke="#555" stroke-width="0.5"/>
<text x="569.50" y="824.33" font-size="6.20" fill="#4d4d4d" stroke="#4d4d4d" text-anchor="middle">4</text>
<line x1="610.00" y1="818.30" x2="610.00" y2="819.80" stroke="#555" stroke-width="0.5"/>
<text x="610.50" y="824.33" font-size="6.20" fill="#4d4d4d" stroke="#4d4d4d" text-anchor="middle">5</text>
<text x="545.00" y="830.60" font-size="5.80" fill="#1a1a1a" stroke="#1a1a1a" text-anchor="middle">−log<tspan font-size="4.35" dy="2.61">10</tspan><tspan dy="-2.61">(p.value)</tspan></text>
<text x="639.30" y="672.17" font-size="5.90" fill="#1a1a1a" stroke="#1a1a1a" text-anchor="start">Gene number</text>
<circle cx="642.10" cy="677.00" r="0.80" fill="#111"/>
<text x="647.00" y="679.12" font-size="5.90" fill="#1a1a1a" stroke="#1a1a1a" text-anchor="start">5</text>
<circle cx="642.10" cy="682.70" r="1.35" fill="#111"/>
<text x="647.00" y="684.82" font-size="5.90" fill="#1a1a1a" stroke="#1a1a1a" text-anchor="start">10</text>
<circle cx="642.10" cy="688.60" r="1.80" fill="#111"/>
<text x="647.00" y="690.72" font-size="5.90" fill="#1a1a1a" stroke="#1a1a1a" text-anchor="start">15</text>
<circle cx="642.10" cy="694.80" r="2.20" fill="#111"/>
<text x="647.00" y="696.92" font-size="5.90" fill="#1a1a1a" stroke="#1a1a1a" text-anchor="start">20</text>
<text x="639.30" y="708.87" font-size="5.90" fill="#1a1a1a" stroke="#1a1a1a" text-anchor="start">Rich factor</text>
<defs><linearGradient id="r3" x1="0" y1="0" x2="0" y2="1"><stop offset="0" stop-color="#e8281e"/><stop offset="0.3" stop-color="#d87028"/><stop offset="0.55" stop-color="#bca02e"/><stop offset="0.78" stop-color="#9ccb38"/><stop offset="1" stop-color="#78c63a"/></linearGradient></defs>
<rect x="639.30" y="711.00" width="5.70" height="29.90" fill="url(#r3)" stroke="none" stroke-width="0"/>
<text x="647.00" y="717.12" font-size="5.90" fill="#1a1a1a" stroke="#1a1a1a" text-anchor="start">0.6</text>
<text x="647.00" y="724.12" font-size="5.90" fill="#1a1a1a" stroke="#1a1a1a" text-anchor="start">0.5</text>
<text x="647.00" y="731.32" font-size="5.90" fill="#1a1a1a" stroke="#1a1a1a" text-anchor="start">0.4</text>
<text x="647.00" y="738.52" font-size="5.90" fill="#1a1a1a" stroke="#1a1a1a" text-anchor="start">0.3</text>
<text x="319.90" y="829.10" font-size="10.30" fill="#1a1a1a" stroke="#1a1a1a" text-anchor="start" style="stroke-width:0.08px">T24 vs T3</text>
</svg>
</body></html>
